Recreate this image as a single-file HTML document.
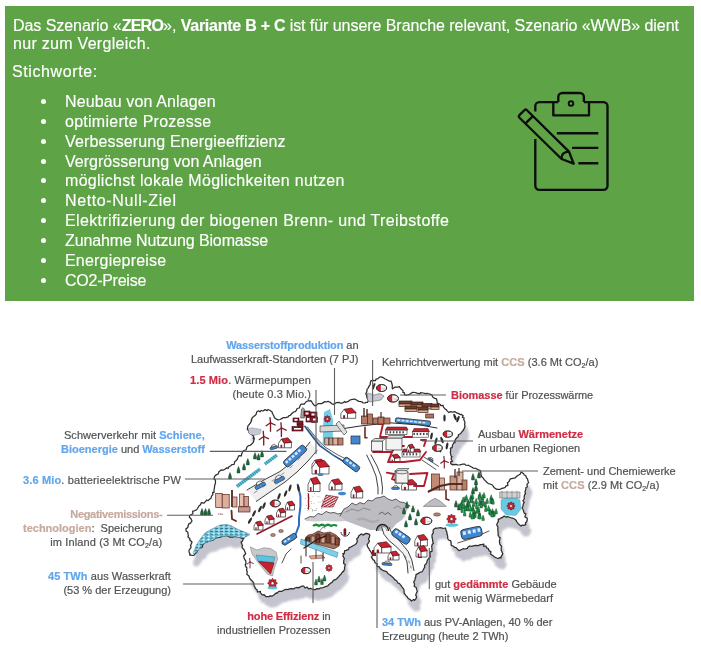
<!DOCTYPE html>
<html><head><meta charset="utf-8">
<style>
*{margin:0;padding:0;box-sizing:border-box}
html,body{width:701px;height:665px;background:#fff;overflow:hidden}
body{position:relative;font-family:"Liberation Sans",sans-serif}
#box{position:absolute;left:4.5px;top:6px;width:689.3px;height:294.7px;background:#5ea447;color:#fff;font-size:16px;-webkit-text-stroke:0.15px #fff}
#box .l{position:absolute;white-space:nowrap;will-change:transform}
#box .b{position:absolute;white-space:nowrap;left:60.2px;will-change:transform}
#box .b::before{content:"";position:absolute;left:-24.25px;top:5.65px;width:5.5px;height:5.5px;border-radius:50%;background:#fff}
.lab{position:absolute;white-space:nowrap;font-size:11px;line-height:14px;color:#4f5254;will-change:transform;-webkit-text-stroke:0.2px currentColor;filter:blur(0.2px)}
.r{text-align:right}
.bl{color:#62a6ec;font-weight:bold}
.rd{color:#cf2d45;font-weight:bold}
.tn{color:#c6a99e;font-weight:bold}
.tnr{color:#c6a99e;font-weight:bold;letter-spacing:0.1px}
sub{font-size:7px;vertical-align:-2px;line-height:0}
svg{position:absolute;left:0;top:0}
</style></head><body>
<div id="box">
<div class="l" style="left:8.3px;top:11px;letter-spacing:-0.055px">Das Szenario «<b style="letter-spacing:-0.75px">ZERO</b>», <b style="letter-spacing:-0.25px">Variante B + C</b> ist für unsere Branche relevant, Szenario «WWB» dient</div>
<div class="l" style="left:8px;top:29px;letter-spacing:0.29px">nur zum Vergleich.</div>
<div class="l" style="left:7.2px;top:57px;letter-spacing:0.6px">Stichworte:</div>
<div class="b" style="top:87.00px;letter-spacing:0.118px">Neubau von Anlagen</div>
<div class="b" style="top:106.84px;letter-spacing:0.267px">optimierte Prozesse</div>
<div class="b" style="top:126.68px;letter-spacing:0.136px">Verbesserung Energieeffizienz</div>
<div class="b" style="top:146.52px;letter-spacing:0.0px">Vergrösserung von Anlagen</div>
<div class="b" style="top:166.36px;letter-spacing:0.297px">möglichst lokale Möglichkeiten nutzen</div>
<div class="b" style="top:186.20px;letter-spacing:0.621px">Netto-Null-Ziel</div>
<div class="b" style="top:206.04px;letter-spacing:0.365px">Elektrifizierung der biogenen Brenn- und Treibstoffe</div>
<div class="b" style="top:225.88px;letter-spacing:-0.135px">Zunahme Nutzung Biomasse</div>
<div class="b" style="top:245.72px;letter-spacing:0.2px">Energiepreise</div>
<div class="b" style="top:265.56px;letter-spacing:-0.256px">CO2-Preise</div>
</div>
<svg width="701" height="665" viewBox="0 0 701 665">
<g fill="none" stroke="#0d0d0d" stroke-width="2.35" stroke-linejoin="round" stroke-linecap="butt">
<path d="M553.3,102.1 H539.3 a4,4 0 0 0 -4,4 V111.5 M535.3,139 V185.8 a4,4 0 0 0 4,4 H603.5 a4,4 0 0 0 4,-4 V106.1 a4,4 0 0 0 -4,-4 H589"/>
<path d="M553.3,102.1 V115.3 H589 V102.1 M553.3,102.1 H558.3 M583.9,102.1 H589 M558.3,102.1 V97 a4,4 0 0 1 4,-4 H579.9 a4,4 0 0 1 4,4 V102.1"/>
<circle cx="571" cy="103.5" r="2.3" stroke-width="1.9"/>
<path d="M556.8,133.2 H598.3 M572,147.9 H598.3 M578.4,163.2 H598.3"/>
<path d="M519.2,115.4 L524.6,110 a1.5,1.5 0 0 1 2.1,0 L569,151.6 L573.7,163.7 L561.6,159 L519.2,117.5 a1.5,1.5 0 0 1 0,-2.1 Z"/>
<path d="M525.8,123.2 L532.6,116.4 M561.6,159 Q561,152 569,151.6"/>
</g>
<defs><filter id="bl" x="-10%" y="-10%" width="120%" height="120%"><feGaussianBlur stdDeviation="0.9"/></filter></defs>
<filter id="soft" filterUnits="userSpaceOnUse" x="0" y="300" width="701" height="365"><feGaussianBlur stdDeviation="0.3"/></filter>
<g filter="url(#soft)">
<path d="M247.7,427.0 L248.1,425.6 L249.4,424.2 L250.7,422.5 L251.7,420.1 L251.2,420.2 L252.4,417.4 L253.7,416.5 L255.7,414.9 L256.4,413.5 L256.7,412.0 L258.5,410.8 L260.0,411.8 L261.2,410.5 L263.0,411.0 L265.2,409.6 L267.1,410.7 L268.0,409.5 L270.2,410.5 L272.1,411.9 L272.5,413.5 L273.7,415.8 L274.4,417.4 L274.7,418.0 L276.2,419.1 L278.1,419.9 L280.0,419.5 L282.7,418.1 L283.0,417.7 L285.7,417.7 L288.2,416.8 L289.0,415.7 L290.2,415.4 L291.4,414.0 L292.2,413.3 L293.7,412.0 L295.0,411.7 L296.3,410.6 L297.1,408.5 L299.3,408.0 L300.5,404.8 L301.6,404.0 L303.9,404.2 L305.5,402.6 L306.2,401.7 L308.2,400.7 L310.0,401.1 L310.8,400.5 L311.4,401.3 L313.0,404.0 L314.9,405.9 L315.3,405.7 L316.0,405.6 L318.2,403.6 L320.0,403.6 L321.6,403.6 L324.8,401.6 L326.0,402.0 L328.0,401.4 L330.1,402.3 L332.2,404.0 L333.2,404.3 L335.0,403.6 L336.5,402.6 L339.0,402.3 L340.1,403.0 L342.6,403.0 L344.7,401.5 L345.3,402.3 L347.8,401.7 L350.0,400.0 L352.4,399.4 L353.1,399.4 L354.7,399.0 L356.5,400.0 L357.8,400.9 L359.2,401.4 L362.1,401.9 L362.9,402.9 L365.0,403.0 L365.7,402.3 L367.5,402.5 L368.3,400.8 L367.3,398.1 L366.8,397.6 L366.8,395.7 L365.8,393.9 L367.1,390.8 L366.8,389.7 L368.0,388.3 L368.6,387.1 L369.5,385.4 L370.2,384.7 L370.3,382.8 L371.0,380.6 L373.7,380.3 L375.5,380.7 L376.0,379.1 L378.0,378.6 L379.4,377.3 L380.5,376.8 L382.0,377.1 L384.0,378.1 L385.0,379.0 L386.5,379.4 L387.3,380.0 L389.0,381.1 L390.9,381.0 L391.7,382.8 L392.2,385.0 L392.5,386.3 L392.1,387.0 L392.5,388.8 L394.4,387.4 L395.1,387.1 L395.7,387.0 L397.7,387.1 L399.4,386.7 L400.2,388.0 L400.7,388.5 L402.0,389.7 L403.1,390.9 L402.8,392.3 L404.4,392.9 L404.5,394.8 L405.9,395.1 L408.0,394.8 L410.5,393.8 L411.4,393.1 L412.7,392.3 L415.2,392.5 L417.0,393.1 L419.7,393.8 L420.5,392.6 L423.3,393.0 L425.6,393.6 L427.3,393.3 L427.6,393.5 L430.1,394.2 L432.1,395.1 L432.5,396.7 L434.1,398.1 L436.5,398.9 L437.0,401.0 L437.3,403.2 L440.4,404.5 L440.8,405.7 L443.1,405.4 L443.5,407.2 L445.4,409.3 L446.5,409.9 L447.1,410.9 L448.9,412.6 L450.1,411.7 L452.7,412.2 L455.0,411.6 L456.1,412.6 L458.7,413.6 L460.6,414.6 L461.5,414.4 L463.2,415.8 L462.3,417.3 L464.2,418.0 L463.7,419.6 L464.9,422.1 L464.6,424.9 L465.0,426.0 L464.5,427.7 L463.5,430.0 L461.7,432.1 L461.0,433.3 L459.8,434.0 L458.6,434.5 L458.0,437.0 L457.0,437.5 L455.3,439.7 L454.9,440.6 L455.0,442.7 L454.0,442.5 L452.5,445.0 L452.2,447.6 L450.4,448.2 L450.7,450.5 L450.3,452.4 L450.7,454.1 L451.0,456.0 L452.0,456.7 L451.0,458.7 L452.4,461.3 L450.8,461.6 L450.7,463.8 L452.8,464.9 L453.0,464.5 L453.9,464.6 L456.1,464.3 L457.9,465.0 L460.0,464.8 L461.8,464.3 L462.6,464.0 L464.8,464.2 L465.8,465.1 L468.9,465.4 L469.3,465.8 L472.0,467.2 L473.4,468.1 L476.0,468.4 L477.7,469.6 L478.7,469.8 L480.5,470.8 L480.9,473.2 L481.1,475.2 L481.7,476.8 L482.8,477.5 L484.2,479.7 L485.3,480.5 L486.0,481.5 L488.3,483.6 L490.0,484.0 L492.4,485.0 L493.8,487.1 L494.0,487.6 L496.0,488.9 L497.2,489.4 L500.3,489.3 L502.0,488.3 L504.1,487.9 L505.5,486.9 L505.7,486.2 L508.0,485.3 L507.4,483.0 L509.4,481.1 L509.3,480.5 L510.4,478.8 L514.0,478.2 L515.2,478.0 L515.7,477.2 L517.4,475.7 L520.1,474.2 L521.2,472.0 L523.7,473.7 L524.2,475.0 L525.7,475.5 L526.6,478.1 L527.4,478.7 L528.3,482.0 L528.7,482.6 L527.0,484.1 L527.3,487.0 L525.9,487.5 L525.7,490.0 L524.9,492.0 L525.6,493.4 L524.5,495.2 L524.2,497.0 L524.2,499.0 L522.9,500.8 L524.3,502.4 L523.4,503.7 L522.8,506.7 L522.0,508.0 L523.1,509.5 L523.5,511.0 L524.2,513.1 L525.8,513.9 L524.9,516.9 L527.3,518.2 L527.2,520.0 L526.6,522.0 L525.5,522.6 L525.7,524.7 L523.6,525.3 L522.3,525.0 L521.2,526.0 L520.4,525.6 L518.3,523.7 L517.3,522.6 L516.2,520.5 L514.9,519.3 L512.6,518.0 L511.7,518.0 L510.2,517.5 L507.5,516.7 L505.8,517.1 L504.2,516.0 L502.0,517.8 L501.2,517.7 L499.6,519.0 L498.2,519.0 L498.4,521.1 L497.2,523.5 L496.7,525.0 L497.8,526.7 L497.9,529.8 L497.8,530.1 L498.2,532.6 L498.0,534.9 L499.3,537.3 L500.1,537.6 L499.7,540.0 L499.4,541.4 L499.8,544.2 L501.6,546.5 L501.2,547.6 L501.2,550.4 L501.8,551.4 L502.7,553.6 L502.7,554.2 L500.8,557.2 L501.2,558.0 L499.3,557.7 L498.4,558.4 L496.7,558.0 L494.1,556.7 L493.4,556.0 L492.0,555.0 L490.4,553.7 L491.0,551.8 L489.0,550.6 L488.1,548.3 L486.5,547.9 L486.0,546.0 L483.7,546.3 L483.9,544.2 L481.6,544.6 L480.5,544.6 L478.2,545.6 L475.6,545.3 L473.2,545.9 L471.9,546.4 L469.6,546.0 L467.6,547.5 L467.5,548.4 L465.0,549.0 L463.1,548.7 L461.0,549.8 L459.0,550.6 L458.0,549.8 L456.1,547.6 L454.8,547.4 L453.0,546.0 L451.2,545.3 L451.1,542.2 L450.6,540.7 L448.6,540.0 L447.7,538.5 L447.7,536.1 L447.0,534.0 L446.8,531.9 L445.7,529.3 L445.6,528.0 L442.8,528.5 L442.3,528.1 L440.4,527.7 L438.0,528.0 L436.0,528.3 L435.8,528.0 L433.5,529.5 L433.1,530.8 L433.3,532.9 L432.0,534.9 L432.0,537.0 L432.6,539.6 L432.7,541.7 L433.5,543.0 L432.2,544.5 L431.7,546.2 L432.0,549.0 L432.0,551.3 L430.1,551.9 L430.0,554.9 L430.3,556.7 L429.0,558.0 L428.4,558.8 L427.3,560.4 L426.8,562.6 L426.0,564.0 L424.5,565.4 L424.8,566.9 L423.3,569.8 L422.1,571.8 L420.6,572.0 L417.9,573.6 L416.0,574.6 L415.7,577.4 L415.2,577.8 L415.0,580.0 L413.7,581.8 L414.6,584.2 L414.1,586.2 L416.2,587.5 L416.6,589.4 L417.3,591.4 L416.3,593.3 L415.7,595.1 L416.6,596.8 L416.0,598.7 L414.6,600.4 L413.7,599.5 L411.3,601.0 L410.7,600.1 L408.0,598.3 L407.1,596.5 L406.5,596.2 L405.6,595.2 L404.2,593.1 L404.0,589.7 L403.4,588.7 L401.7,586.6 L401.1,585.6 L399.3,583.4 L398.0,583.2 L396.6,580.7 L394.4,579.4 L393.5,577.9 L390.7,575.6 L389.2,574.5 L387.9,573.6 L387.2,572.2 L385.9,571.4 L383.5,570.7 L381.5,569.4 L380.2,568.6 L379.5,566.9 L377.1,566.4 L377.1,563.8 L375.1,562.7 L374.4,560.5 L373.0,559.6 L371.5,557.2 L372.7,555.2 L371.6,553.5 L371.2,552.3 L369.4,549.8 L368.6,548.0 L367.6,546.9 L367.2,544.3 L368.1,543.3 L369.4,541.5 L368.5,538.7 L369.3,537.7 L369.8,535.2 L369.4,534.3 L367.4,533.6 L365.8,533.4 L363.0,535.1 L361.6,533.9 L360.3,534.7 L358.6,536.1 L358.3,537.6 L356.7,538.8 L357.4,541.1 L356.4,543.4 L355.3,544.5 L353.9,545.2 L351.3,546.8 L349.1,547.5 L348.6,549.4 L346.2,550.3 L344.7,550.6 L344.2,553.6 L342.7,553.7 L343.5,554.4 L342.9,556.2 L344.5,558.8 L343.8,560.0 L343.6,563.4 L345.3,564.6 L344.5,567.4 L344.6,569.1 L343.4,571.7 L342.8,571.5 L341.0,574.2 L339.3,575.7 L339.4,575.9 L336.7,578.8 L335.9,579.4 L333.4,580.4 L332.1,582.3 L331.6,582.5 L329.0,584.5 L327.8,585.9 L326.3,586.4 L324.8,586.8 L322.2,588.0 L320.3,587.9 L319.3,588.8 L316.5,588.6 L315.3,589.7 L314.1,589.7 L312.3,589.0 L310.2,588.3 L308.5,588.8 L307.2,587.1 L305.0,588.0 L303.7,586.0 L301.6,586.2 L299.3,587.4 L298.5,587.9 L297.3,587.4 L294.8,588.0 L293.9,588.9 L291.1,588.6 L288.8,589.1 L288.0,589.7 L287.2,589.3 L284.7,589.7 L281.9,591.3 L281.1,591.4 L278.8,591.3 L276.9,593.4 L276.1,592.9 L274.2,594.8 L271.9,596.2 L270.2,595.8 L268.9,596.7 L267.4,596.5 L265.9,596.5 L264.1,594.7 L262.3,594.8 L260.3,592.6 L260.4,591.4 L257.4,592.0 L257.1,589.7 L255.6,588.8 L254.5,586.2 L254.0,585.2 L253.7,582.8 L252.8,581.7 L251.9,580.7 L249.9,578.7 L249.0,576.2 L248.7,575.8 L246.8,574.2 L247.3,571.7 L246.6,570.4 L246.9,567.7 L245.9,566.7 L245.2,565.0 L246.0,563.0 L245.8,561.2 L245.0,559.9 L244.0,558.0 L243.7,555.7 L245.7,553.7 L245.0,552.0 L243.9,549.5 L242.4,548.0 L242.0,547.0 L242.6,545.8 L242.1,544.7 L241.0,542.0 L242.2,541.6 L243.1,539.2 L244.0,538.0 L242.9,538.6 L240.0,537.5 L238.9,537.1 L236.6,536.6 L234.0,536.5 L233.0,537.2 L229.6,537.1 L228.0,536.0 L225.3,535.3 L224.5,535.9 L222.0,536.5 L220.4,537.1 L217.7,537.7 L217.0,537.5 L214.9,538.4 L213.3,540.0 L212.0,540.5 L210.9,540.6 L207.8,541.1 L207.0,542.0 L205.5,541.8 L203.6,543.9 L203.0,544.0 L202.4,546.3 L202.0,547.5 L200.0,548.0 L198.7,548.6 L197.6,550.6 L197.0,552.0 L195.7,553.3 L194.0,555.1 L193.0,555.5 L190.8,555.2 L189.5,555.0 L190.1,554.1 L189.0,552.0 L189.2,549.8 L191.0,547.6 L191.0,547.0 L190.6,545.4 L191.7,543.0 L192.0,542.0 L189.7,539.7 L189.9,538.6 L188.0,537.0 L188.3,535.6 L187.7,532.0 L186.0,531.0 L186.0,528.6 L187.2,528.0 L188.0,527.0 L188.1,525.6 L189.1,523.6 L190.5,523.1 L192.0,521.0 L191.0,518.7 L189.4,517.3 L189.6,515.6 L191.1,514.8 L192.9,513.8 L192.7,511.2 L194.4,510.8 L196.5,509.9 L197.5,508.5 L199.1,505.8 L200.5,504.8 L201.3,502.6 L203.8,503.2 L205.9,501.1 L206.5,500.0 L208.2,500.6 L209.3,499.4 L211.2,498.0 L211.5,496.2 L212.9,494.6 L212.6,492.3 L214.0,492.4 L214.0,489.8 L214.5,487.6 L214.6,485.7 L215.3,483.8 L215.5,482.1 L215.4,479.9 L214.0,479.0 L214.3,477.2 L215.3,475.4 L216.3,474.9 L218.4,473.8 L218.9,471.7 L221.1,469.9 L223.1,470.2 L224.9,469.3 L226.4,467.9 L228.3,468.4 L228.6,467.0 L230.9,465.7 L231.8,464.6 L234.1,464.3 L234.8,461.5 L235.7,461.0 L237.4,459.1 L237.1,459.2 L238.1,457.3 L238.9,455.6 L241.4,455.8 L241.7,453.7 L242.5,452.2 L243.7,450.5 L245.4,450.0 L246.1,449.8 L246.9,447.1 L248.4,445.6 L250.2,445.3 L251.5,444.2 L253.3,442.4 L253.8,440.5 L254.4,438.0 L253.3,438.5 L253.7,436.0 L251.7,434.8 L251.5,434.5 L250.3,433.3 L249.2,433.0 L248.7,430.5 L248.0,430.0 L247.3,429.5Z" fill="#c3c4cd" transform="translate(4,11)" filter="url(#bl)"/>
<path d="M247.7,427.0 L248.1,425.6 L249.4,424.2 L250.7,422.5 L251.7,420.1 L251.2,420.2 L252.4,417.4 L253.7,416.5 L255.7,414.9 L256.4,413.5 L256.7,412.0 L258.5,410.8 L260.0,411.8 L261.2,410.5 L263.0,411.0 L265.2,409.6 L267.1,410.7 L268.0,409.5 L270.2,410.5 L272.1,411.9 L272.5,413.5 L273.7,415.8 L274.4,417.4 L274.7,418.0 L276.2,419.1 L278.1,419.9 L280.0,419.5 L282.7,418.1 L283.0,417.7 L285.7,417.7 L288.2,416.8 L289.0,415.7 L290.2,415.4 L291.4,414.0 L292.2,413.3 L293.7,412.0 L295.0,411.7 L296.3,410.6 L297.1,408.5 L299.3,408.0 L300.5,404.8 L301.6,404.0 L303.9,404.2 L305.5,402.6 L306.2,401.7 L308.2,400.7 L310.0,401.1 L310.8,400.5 L311.4,401.3 L313.0,404.0 L314.9,405.9 L315.3,405.7 L316.0,405.6 L318.2,403.6 L320.0,403.6 L321.6,403.6 L324.8,401.6 L326.0,402.0 L328.0,401.4 L330.1,402.3 L332.2,404.0 L333.2,404.3 L335.0,403.6 L336.5,402.6 L339.0,402.3 L340.1,403.0 L342.6,403.0 L344.7,401.5 L345.3,402.3 L347.8,401.7 L350.0,400.0 L352.4,399.4 L353.1,399.4 L354.7,399.0 L356.5,400.0 L357.8,400.9 L359.2,401.4 L362.1,401.9 L362.9,402.9 L365.0,403.0 L365.7,402.3 L367.5,402.5 L368.3,400.8 L367.3,398.1 L366.8,397.6 L366.8,395.7 L365.8,393.9 L367.1,390.8 L366.8,389.7 L368.0,388.3 L368.6,387.1 L369.5,385.4 L370.2,384.7 L370.3,382.8 L371.0,380.6 L373.7,380.3 L375.5,380.7 L376.0,379.1 L378.0,378.6 L379.4,377.3 L380.5,376.8 L382.0,377.1 L384.0,378.1 L385.0,379.0 L386.5,379.4 L387.3,380.0 L389.0,381.1 L390.9,381.0 L391.7,382.8 L392.2,385.0 L392.5,386.3 L392.1,387.0 L392.5,388.8 L394.4,387.4 L395.1,387.1 L395.7,387.0 L397.7,387.1 L399.4,386.7 L400.2,388.0 L400.7,388.5 L402.0,389.7 L403.1,390.9 L402.8,392.3 L404.4,392.9 L404.5,394.8 L405.9,395.1 L408.0,394.8 L410.5,393.8 L411.4,393.1 L412.7,392.3 L415.2,392.5 L417.0,393.1 L419.7,393.8 L420.5,392.6 L423.3,393.0 L425.6,393.6 L427.3,393.3 L427.6,393.5 L430.1,394.2 L432.1,395.1 L432.5,396.7 L434.1,398.1 L436.5,398.9 L437.0,401.0 L437.3,403.2 L440.4,404.5 L440.8,405.7 L443.1,405.4 L443.5,407.2 L445.4,409.3 L446.5,409.9 L447.1,410.9 L448.9,412.6 L450.1,411.7 L452.7,412.2 L455.0,411.6 L456.1,412.6 L458.7,413.6 L460.6,414.6 L461.5,414.4 L463.2,415.8 L462.3,417.3 L464.2,418.0 L463.7,419.6 L464.9,422.1 L464.6,424.9 L465.0,426.0 L464.5,427.7 L463.5,430.0 L461.7,432.1 L461.0,433.3 L459.8,434.0 L458.6,434.5 L458.0,437.0 L457.0,437.5 L455.3,439.7 L454.9,440.6 L455.0,442.7 L454.0,442.5 L452.5,445.0 L452.2,447.6 L450.4,448.2 L450.7,450.5 L450.3,452.4 L450.7,454.1 L451.0,456.0 L452.0,456.7 L451.0,458.7 L452.4,461.3 L450.8,461.6 L450.7,463.8 L452.8,464.9 L453.0,464.5 L453.9,464.6 L456.1,464.3 L457.9,465.0 L460.0,464.8 L461.8,464.3 L462.6,464.0 L464.8,464.2 L465.8,465.1 L468.9,465.4 L469.3,465.8 L472.0,467.2 L473.4,468.1 L476.0,468.4 L477.7,469.6 L478.7,469.8 L480.5,470.8 L480.9,473.2 L481.1,475.2 L481.7,476.8 L482.8,477.5 L484.2,479.7 L485.3,480.5 L486.0,481.5 L488.3,483.6 L490.0,484.0 L492.4,485.0 L493.8,487.1 L494.0,487.6 L496.0,488.9 L497.2,489.4 L500.3,489.3 L502.0,488.3 L504.1,487.9 L505.5,486.9 L505.7,486.2 L508.0,485.3 L507.4,483.0 L509.4,481.1 L509.3,480.5 L510.4,478.8 L514.0,478.2 L515.2,478.0 L515.7,477.2 L517.4,475.7 L520.1,474.2 L521.2,472.0 L523.7,473.7 L524.2,475.0 L525.7,475.5 L526.6,478.1 L527.4,478.7 L528.3,482.0 L528.7,482.6 L527.0,484.1 L527.3,487.0 L525.9,487.5 L525.7,490.0 L524.9,492.0 L525.6,493.4 L524.5,495.2 L524.2,497.0 L524.2,499.0 L522.9,500.8 L524.3,502.4 L523.4,503.7 L522.8,506.7 L522.0,508.0 L523.1,509.5 L523.5,511.0 L524.2,513.1 L525.8,513.9 L524.9,516.9 L527.3,518.2 L527.2,520.0 L526.6,522.0 L525.5,522.6 L525.7,524.7 L523.6,525.3 L522.3,525.0 L521.2,526.0 L520.4,525.6 L518.3,523.7 L517.3,522.6 L516.2,520.5 L514.9,519.3 L512.6,518.0 L511.7,518.0 L510.2,517.5 L507.5,516.7 L505.8,517.1 L504.2,516.0 L502.0,517.8 L501.2,517.7 L499.6,519.0 L498.2,519.0 L498.4,521.1 L497.2,523.5 L496.7,525.0 L497.8,526.7 L497.9,529.8 L497.8,530.1 L498.2,532.6 L498.0,534.9 L499.3,537.3 L500.1,537.6 L499.7,540.0 L499.4,541.4 L499.8,544.2 L501.6,546.5 L501.2,547.6 L501.2,550.4 L501.8,551.4 L502.7,553.6 L502.7,554.2 L500.8,557.2 L501.2,558.0 L499.3,557.7 L498.4,558.4 L496.7,558.0 L494.1,556.7 L493.4,556.0 L492.0,555.0 L490.4,553.7 L491.0,551.8 L489.0,550.6 L488.1,548.3 L486.5,547.9 L486.0,546.0 L483.7,546.3 L483.9,544.2 L481.6,544.6 L480.5,544.6 L478.2,545.6 L475.6,545.3 L473.2,545.9 L471.9,546.4 L469.6,546.0 L467.6,547.5 L467.5,548.4 L465.0,549.0 L463.1,548.7 L461.0,549.8 L459.0,550.6 L458.0,549.8 L456.1,547.6 L454.8,547.4 L453.0,546.0 L451.2,545.3 L451.1,542.2 L450.6,540.7 L448.6,540.0 L447.7,538.5 L447.7,536.1 L447.0,534.0 L446.8,531.9 L445.7,529.3 L445.6,528.0 L442.8,528.5 L442.3,528.1 L440.4,527.7 L438.0,528.0 L436.0,528.3 L435.8,528.0 L433.5,529.5 L433.1,530.8 L433.3,532.9 L432.0,534.9 L432.0,537.0 L432.6,539.6 L432.7,541.7 L433.5,543.0 L432.2,544.5 L431.7,546.2 L432.0,549.0 L432.0,551.3 L430.1,551.9 L430.0,554.9 L430.3,556.7 L429.0,558.0 L428.4,558.8 L427.3,560.4 L426.8,562.6 L426.0,564.0 L424.5,565.4 L424.8,566.9 L423.3,569.8 L422.1,571.8 L420.6,572.0 L417.9,573.6 L416.0,574.6 L415.7,577.4 L415.2,577.8 L415.0,580.0 L413.7,581.8 L414.6,584.2 L414.1,586.2 L416.2,587.5 L416.6,589.4 L417.3,591.4 L416.3,593.3 L415.7,595.1 L416.6,596.8 L416.0,598.7 L414.6,600.4 L413.7,599.5 L411.3,601.0 L410.7,600.1 L408.0,598.3 L407.1,596.5 L406.5,596.2 L405.6,595.2 L404.2,593.1 L404.0,589.7 L403.4,588.7 L401.7,586.6 L401.1,585.6 L399.3,583.4 L398.0,583.2 L396.6,580.7 L394.4,579.4 L393.5,577.9 L390.7,575.6 L389.2,574.5 L387.9,573.6 L387.2,572.2 L385.9,571.4 L383.5,570.7 L381.5,569.4 L380.2,568.6 L379.5,566.9 L377.1,566.4 L377.1,563.8 L375.1,562.7 L374.4,560.5 L373.0,559.6 L371.5,557.2 L372.7,555.2 L371.6,553.5 L371.2,552.3 L369.4,549.8 L368.6,548.0 L367.6,546.9 L367.2,544.3 L368.1,543.3 L369.4,541.5 L368.5,538.7 L369.3,537.7 L369.8,535.2 L369.4,534.3 L367.4,533.6 L365.8,533.4 L363.0,535.1 L361.6,533.9 L360.3,534.7 L358.6,536.1 L358.3,537.6 L356.7,538.8 L357.4,541.1 L356.4,543.4 L355.3,544.5 L353.9,545.2 L351.3,546.8 L349.1,547.5 L348.6,549.4 L346.2,550.3 L344.7,550.6 L344.2,553.6 L342.7,553.7 L343.5,554.4 L342.9,556.2 L344.5,558.8 L343.8,560.0 L343.6,563.4 L345.3,564.6 L344.5,567.4 L344.6,569.1 L343.4,571.7 L342.8,571.5 L341.0,574.2 L339.3,575.7 L339.4,575.9 L336.7,578.8 L335.9,579.4 L333.4,580.4 L332.1,582.3 L331.6,582.5 L329.0,584.5 L327.8,585.9 L326.3,586.4 L324.8,586.8 L322.2,588.0 L320.3,587.9 L319.3,588.8 L316.5,588.6 L315.3,589.7 L314.1,589.7 L312.3,589.0 L310.2,588.3 L308.5,588.8 L307.2,587.1 L305.0,588.0 L303.7,586.0 L301.6,586.2 L299.3,587.4 L298.5,587.9 L297.3,587.4 L294.8,588.0 L293.9,588.9 L291.1,588.6 L288.8,589.1 L288.0,589.7 L287.2,589.3 L284.7,589.7 L281.9,591.3 L281.1,591.4 L278.8,591.3 L276.9,593.4 L276.1,592.9 L274.2,594.8 L271.9,596.2 L270.2,595.8 L268.9,596.7 L267.4,596.5 L265.9,596.5 L264.1,594.7 L262.3,594.8 L260.3,592.6 L260.4,591.4 L257.4,592.0 L257.1,589.7 L255.6,588.8 L254.5,586.2 L254.0,585.2 L253.7,582.8 L252.8,581.7 L251.9,580.7 L249.9,578.7 L249.0,576.2 L248.7,575.8 L246.8,574.2 L247.3,571.7 L246.6,570.4 L246.9,567.7 L245.9,566.7 L245.2,565.0 L246.0,563.0 L245.8,561.2 L245.0,559.9 L244.0,558.0 L243.7,555.7 L245.7,553.7 L245.0,552.0 L243.9,549.5 L242.4,548.0 L242.0,547.0 L242.6,545.8 L242.1,544.7 L241.0,542.0 L242.2,541.6 L243.1,539.2 L244.0,538.0 L242.9,538.6 L240.0,537.5 L238.9,537.1 L236.6,536.6 L234.0,536.5 L233.0,537.2 L229.6,537.1 L228.0,536.0 L225.3,535.3 L224.5,535.9 L222.0,536.5 L220.4,537.1 L217.7,537.7 L217.0,537.5 L214.9,538.4 L213.3,540.0 L212.0,540.5 L210.9,540.6 L207.8,541.1 L207.0,542.0 L205.5,541.8 L203.6,543.9 L203.0,544.0 L202.4,546.3 L202.0,547.5 L200.0,548.0 L198.7,548.6 L197.6,550.6 L197.0,552.0 L195.7,553.3 L194.0,555.1 L193.0,555.5 L190.8,555.2 L189.5,555.0 L190.1,554.1 L189.0,552.0 L189.2,549.8 L191.0,547.6 L191.0,547.0 L190.6,545.4 L191.7,543.0 L192.0,542.0 L189.7,539.7 L189.9,538.6 L188.0,537.0 L188.3,535.6 L187.7,532.0 L186.0,531.0 L186.0,528.6 L187.2,528.0 L188.0,527.0 L188.1,525.6 L189.1,523.6 L190.5,523.1 L192.0,521.0 L191.0,518.7 L189.4,517.3 L189.6,515.6 L191.1,514.8 L192.9,513.8 L192.7,511.2 L194.4,510.8 L196.5,509.9 L197.5,508.5 L199.1,505.8 L200.5,504.8 L201.3,502.6 L203.8,503.2 L205.9,501.1 L206.5,500.0 L208.2,500.6 L209.3,499.4 L211.2,498.0 L211.5,496.2 L212.9,494.6 L212.6,492.3 L214.0,492.4 L214.0,489.8 L214.5,487.6 L214.6,485.7 L215.3,483.8 L215.5,482.1 L215.4,479.9 L214.0,479.0 L214.3,477.2 L215.3,475.4 L216.3,474.9 L218.4,473.8 L218.9,471.7 L221.1,469.9 L223.1,470.2 L224.9,469.3 L226.4,467.9 L228.3,468.4 L228.6,467.0 L230.9,465.7 L231.8,464.6 L234.1,464.3 L234.8,461.5 L235.7,461.0 L237.4,459.1 L237.1,459.2 L238.1,457.3 L238.9,455.6 L241.4,455.8 L241.7,453.7 L242.5,452.2 L243.7,450.5 L245.4,450.0 L246.1,449.8 L246.9,447.1 L248.4,445.6 L250.2,445.3 L251.5,444.2 L253.3,442.4 L253.8,440.5 L254.4,438.0 L253.3,438.5 L253.7,436.0 L251.7,434.8 L251.5,434.5 L250.3,433.3 L249.2,433.0 L248.7,430.5 L248.0,430.0 L247.3,429.5Z" fill="#fff" stroke="#2e2e2e" stroke-width="1.25" stroke-linejoin="round"/>
<path d="M305.0,519.0 L310.0,516.5 L314.0,517.0 L318.0,513.5 L322.0,514.5 L326.0,511.5 L330.0,513.0 L334.0,512.5 L338.0,514.0 L342.0,513.0 L344.0,514.0 L346.0,521.0 L338.0,521.5 L326.0,521.0 L315.0,521.5 L306.0,521.0Z" fill="#cdcdd1" stroke="none" stroke-width="0.7" stroke-linejoin="round" />
<path d="M305.0,519.0 L310.0,516.5 L314.0,517.0 L318.0,513.5 L322.0,514.5 L326.0,511.5 L330.0,513.0 L334.0,512.5 L338.0,514.0 L342.0,513.0 L344.0,514.0" fill="none" stroke="#3a3a3e" stroke-width="0.8" stroke-linecap="round" stroke-linejoin="round" />
<path d="M340.0,516.0 L344.0,509.0 L348.0,507.0 L352.0,503.0 L356.0,505.0 L360.0,502.5 L364.0,504.0 L368.0,500.0 L372.0,501.0 L376.0,498.0 L380.0,497.5 L384.0,496.0 L388.0,499.0 L392.0,500.5 L396.0,499.0 L400.0,502.0 L404.0,502.5 L408.0,505.0 L410.0,506.0 L407.0,510.0 L405.0,516.0 L402.0,520.0 L396.0,524.0 L392.0,529.0 L388.0,531.0 L380.0,531.0 L376.0,530.0 L370.0,530.0 L362.0,527.0 L354.0,524.0 L346.0,521.0Z" fill="#bdbdc1" stroke="none" stroke-width="0.7" stroke-linejoin="round" />
<path d="M340.0,516.0 L344.0,509.0 L348.0,507.0 L352.0,503.0 L356.0,505.0 L360.0,502.5 L364.0,504.0 L368.0,500.0 L372.0,501.0 L376.0,498.0 L380.0,497.5 L384.0,496.0 L388.0,499.0 L392.0,500.5 L396.0,499.0 L400.0,502.0 L404.0,502.5 L408.0,505.0 L410.0,506.0" fill="none" stroke="#3a3a3e" stroke-width="0.8" stroke-linecap="round" stroke-linejoin="round" />
<path d="M346.0,512.0 L352.0,509.0 L358.0,511.0 L364.0,508.0 L370.0,510.0" fill="none" stroke="#6a6a6e" stroke-width="0.6" stroke-linecap="round" stroke-linejoin="round" />
<path d="M379.0,514.0 L382.0,512.0 L385.0,514.5 L388.0,512.5 L391.0,515.0" fill="none" stroke="#3a3a3e" stroke-width="0.7" stroke-linecap="round" stroke-linejoin="round" />
<path d="M394.0,508.0 L398.0,506.0 L402.0,509.0" fill="none" stroke="#6a6a6e" stroke-width="0.6" stroke-linecap="round" stroke-linejoin="round" />
<path d="M357,520 q6,-3 12,1 q5,2 10,-1" fill="none" stroke="#a0a0a5" stroke-width="2.5" opacity="0.6"/>
<path d="M423.3,506.4 L430.0,501.0 L435.0,498.3 L440.0,501.0 L446.3,506.4Z" fill="#bdbdc2" stroke="#555" stroke-width="0.5" stroke-linejoin="round" />
<path d="M367.5,393.0 L374.0,395.0 L380.0,393.5 L384.0,396.0 L381.0,400.0 L375.0,401.0 L370.0,402.0 L367.5,400.0Z" fill="#c6c8d2" stroke="#555" stroke-width="0.5" stroke-linejoin="round" />
<path d="M248.4,428.5 L252.0,427.8 L256.0,428.5 L261.2,429.5 L260.0,434.0 L255.0,435.3 L250.0,434.5 L248.6,432.0Z" fill="#c6c8d4" stroke="#777" stroke-width="0.4" stroke-linejoin="round" />
<defs><pattern id="hp" width="5" height="3.2" patternUnits="userSpaceOnUse"><rect width="5" height="3.2" fill="#7ccbe3"/><rect x="0" y="0" width="3" height="0.9" fill="#2f6f80"/><rect x="2.5" y="1.6" width="2" height="0.9" fill="#f0f9fc"/><rect x="0.3" y="1.7" width="1.2" height="0.7" fill="#3aa0c0"/></pattern></defs>
<path d="M193.0,553.0 L197.0,544.0 L201.0,538.0 L205.0,533.0 L210.0,530.0 L214.0,528.0 L220.0,525.0 L227.0,524.5 L232.0,526.0 L237.0,529.0 L242.0,531.0 L247.0,533.0 L250.0,534.5 L244.0,538.0 L240.0,537.5 L234.0,536.5 L228.0,536.0 L222.0,536.5 L217.0,537.5 L212.0,540.5 L207.0,542.0 L203.0,544.0 L200.0,548.0 L197.0,552.0 L194.0,554.0Z" fill="url(#hp)" stroke="#3c7d90" stroke-width="0.5" stroke-linejoin="round" />
<path d="M250.3,546.8 L257.0,550.0 L264.0,547.7 L270.8,548.6 L276.0,552.0 L277.7,558.8 L274.2,569.0 L272.5,576.0 L267.4,574.2 L260.5,565.7 L255.4,558.8 L252.0,553.7Z" fill="#c9c7ca" stroke="#777" stroke-width="0.5" stroke-linejoin="round" />
<path d="M256.0,555.0 L275.0,557.0 L273.5,562.5 L258.0,561.0Z" fill="#5cc3e0" stroke="#2a7c97" stroke-width="0.5" stroke-linejoin="round" />
<path d="M258.5,561.5 L274.0,563.0 L270.5,574.0Z" fill="#c8202f" stroke="#501018" stroke-width="0.6" stroke-linejoin="round" />
<path d="M247.0,490.0 L262.0,481.0 L280.0,471.5 L292.0,462.0 L302.0,452.0 L310.0,442.0 L317.0,450.6 L308.0,461.0 L297.0,472.0 L285.0,482.0 L270.0,492.0 L256.3,501.4Z" fill="#efefef" stroke="none" stroke-width="0.7" stroke-linejoin="round" />
<path d="M247.0,490.0 L262.0,481.0 L280.0,471.5 L292.0,462.0 L302.0,452.0 L310.0,442.0" fill="none" stroke="#2b2b2b" stroke-width="0.9" stroke-linecap="round" stroke-linejoin="round" />
<path d="M256.3,501.4 L270.0,492.0 L285.0,482.0 L297.0,472.0 L308.0,461.0 L317.0,450.6" fill="none" stroke="#2b2b2b" stroke-width="0.9" stroke-linecap="round" stroke-linejoin="round" />
<path d="M254.0,493.0 L257.0,491.0" fill="none" stroke="#555" stroke-width="0.6" stroke-linecap="round" stroke-linejoin="round" />
<path d="M263.0,487.0 L266.0,485.0" fill="none" stroke="#555" stroke-width="0.6" stroke-linecap="round" stroke-linejoin="round" />
<path d="M272.0,481.0 L275.0,479.0" fill="none" stroke="#555" stroke-width="0.6" stroke-linecap="round" stroke-linejoin="round" />
<path d="M281.0,475.0 L284.0,472.8" fill="none" stroke="#555" stroke-width="0.6" stroke-linecap="round" stroke-linejoin="round" />
<path d="M290.0,468.0 L292.5,465.5" fill="none" stroke="#555" stroke-width="0.6" stroke-linecap="round" stroke-linejoin="round" />
<path d="M298.0,460.0 L300.2,457.2" fill="none" stroke="#555" stroke-width="0.6" stroke-linecap="round" stroke-linejoin="round" />
<path d="M305.0,451.5 L307.0,448.5" fill="none" stroke="#555" stroke-width="0.6" stroke-linecap="round" stroke-linejoin="round" />
<path d="M366.7,455.0 L372.0,466.0 L376.0,476.0 L378.0,488.0 L378.0,494.0" fill="none" stroke="#2b2b2b" stroke-width="0.9" stroke-linecap="round" stroke-linejoin="round" />
<path d="M371.0,455.0 L377.0,466.0 L381.0,476.0 L382.5,488.0 L382.0,494.0" fill="none" stroke="#2b2b2b" stroke-width="0.9" stroke-linecap="round" stroke-linejoin="round" />
<path d="M381.7,527.2 L384.0,534.4 L388.9,540.5 L396.0,546.5 L403.3,553.7 L407.0,562.0 L408.0,573.0 L414.0,570.5 L411.7,559.7 L408.0,551.3 L402.0,544.0 L396.0,536.8 L391.3,532.0 L388.9,527.2Z" fill="#f3f3f3" stroke="none" stroke-width="0.7" stroke-linejoin="round" />
<path d="M381.7,527.2 L384.0,534.4 L388.9,540.5 L396.0,546.5 L403.3,553.7 L407.0,562.0 L408.0,573.0" fill="none" stroke="#2b2b2b" stroke-width="0.9" stroke-linecap="round" stroke-linejoin="round" />
<path d="M388.9,527.2 L391.3,532.0 L396.0,536.8 L402.0,544.0 L408.0,551.3 L411.7,559.7 L414.0,570.5" fill="none" stroke="#2b2b2b" stroke-width="0.9" stroke-linecap="round" stroke-linejoin="round" />
<path d="M405.5,556.0 L406.1,558.0" fill="none" stroke="#555" stroke-width="0.6" stroke-linecap="round" stroke-linejoin="round" />
<path d="M408.8,561.0 L409.4,563.0" fill="none" stroke="#555" stroke-width="0.6" stroke-linecap="round" stroke-linejoin="round" />
<path d="M410.5,566.0 L411.1,568.0" fill="none" stroke="#555" stroke-width="0.6" stroke-linecap="round" stroke-linejoin="round" />
<path d="M376.5,531 a6,6.5 0 0 1 12,0" fill="none" stroke="#222" stroke-width="1.5"/>
<path d="M378.3,531 a4.2,4.6 0 0 1 8.4,0" fill="none" stroke="#666" stroke-width="0.6"/>
<path d="M424.0,457.0 L438.6,466.4" fill="none" stroke="#2b2b2b" stroke-width="0.8" stroke-linecap="round" stroke-linejoin="round" />
<path d="M422.0,460.0 L436.0,469.5" fill="none" stroke="#2b2b2b" stroke-width="0.8" stroke-linecap="round" stroke-linejoin="round" />
<path d="M344.2,428.5 L360.0,426.0 L390.0,422.8 L420.0,425.0 L437.0,428.0" fill="none" stroke="#2b2b2b" stroke-width="1.0" stroke-linecap="round" stroke-linejoin="round" />
<path d="M457.6,543.0 L472.0,538.5 L489.0,531.0" fill="none" stroke="#2b2b2b" stroke-width="0.8" stroke-linecap="round" stroke-linejoin="round" />
<path d="M304.8,426.3 L312.0,436.0 L320.0,446.0 L332.8,454.8 L347.7,464.0" fill="none" stroke="#1d4f8a" stroke-width="1.5" stroke-linecap="round" stroke-linejoin="round" />
<path d="M307.5,427.0 L316.0,437.5 L325.0,447.0 L338.0,455.0 L350.0,461.0" fill="none" stroke="#3a3a3a" stroke-width="0.8" stroke-linecap="round" stroke-linejoin="round" />
<path d="M307.0,427.0 L315.0,438.0 L323.0,447.0 L334.0,455.5" fill="none" stroke="#5a7fa8" stroke-width="0.8" stroke-linecap="round" stroke-linejoin="round" />
<path d="M297.7,484.8 L300.4,496.0 L300.4,506.4 L299.0,518.0 L299.0,525.4 L295.0,536.0 L289.0,541.0 L282.7,543.5" fill="none" stroke="#2b6fc0" stroke-width="2.0" stroke-linecap="round" stroke-linejoin="round" />
<g transform="rotate(-42.0 285 465)"><rect x="285" y="461.25" width="26.9" height="7.5" rx="2.6" fill="#3f86d0" stroke="#2b2b2b" stroke-width="0.8"/><rect x="287.0" y="462.6" width="2.8" height="2.6" fill="#d5e9ff"/><rect x="291.2" y="462.6" width="2.8" height="2.6" fill="#d5e9ff"/><rect x="295.4" y="462.6" width="2.8" height="2.6" fill="#d5e9ff"/><rect x="299.6" y="462.6" width="2.8" height="2.6" fill="#d5e9ff"/><rect x="303.8" y="462.6" width="2.8" height="2.6" fill="#d5e9ff"/></g>
<g transform="rotate(37.0 344 459)"><rect x="344" y="455.75" width="18.3" height="6.5" rx="2.3" fill="#3f86d0" stroke="#2b2b2b" stroke-width="0.8"/><rect x="346.0" y="457.1" width="2.8" height="2.3" fill="#d5e9ff"/><rect x="350.2" y="457.1" width="2.8" height="2.3" fill="#d5e9ff"/><rect x="354.4" y="457.1" width="2.8" height="2.3" fill="#d5e9ff"/></g>
<g transform="rotate(5.7 395.4 420)"><rect x="395.4" y="417.7" width="35.3" height="4.6" rx="1.6" fill="#4f97e0" stroke="#2b2b2b" stroke-width="0.8"/><rect x="397.4" y="419.0" width="2.8" height="1.6" fill="#d5e9ff"/><rect x="401.6" y="419.0" width="2.8" height="1.6" fill="#d5e9ff"/><rect x="405.8" y="419.0" width="2.8" height="1.6" fill="#d5e9ff"/><rect x="410.0" y="419.0" width="2.8" height="1.6" fill="#d5e9ff"/><rect x="414.2" y="419.0" width="2.8" height="1.6" fill="#d5e9ff"/><rect x="418.4" y="419.0" width="2.8" height="1.6" fill="#d5e9ff"/><rect x="422.6" y="419.0" width="2.8" height="1.6" fill="#d5e9ff"/></g>
<g transform="rotate(34.5 393 531)"><rect x="393" y="527.0" width="19.4" height="8" rx="2.8" fill="#3f86d0" stroke="#2b2b2b" stroke-width="0.8"/><rect x="395.0" y="528.3" width="2.8" height="2.8" fill="#d5e9ff"/><rect x="399.2" y="528.3" width="2.8" height="2.8" fill="#d5e9ff"/><rect x="403.4" y="528.3" width="2.8" height="2.8" fill="#d5e9ff"/></g>
<g transform="rotate(-12 471 533)"><rect x="461" y="528" width="21" height="10" rx="3" fill="#3f86d0" stroke="#2b2b2b" stroke-width="0.8"/><rect x="463" y="530" width="3" height="3.5" fill="#d5e9ff"/><rect x="468" y="530" width="3" height="3.5" fill="#d5e9ff"/><rect x="473" y="530" width="3" height="3.5" fill="#d5e9ff"/><rect x="478" y="530" width="2.5" height="3.5" fill="#d5e9ff"/></g>
<g transform="rotate(-32.6 282.7 543.5)"><rect x="282.7" y="540.75" width="15.8" height="5.5" rx="1.9" fill="#3f86d0" stroke="#2b2b2b" stroke-width="0.8"/><rect x="284.7" y="542.0" width="2.8" height="1.9" fill="#d5e9ff"/><rect x="288.9" y="542.0" width="2.8" height="1.9" fill="#d5e9ff"/></g>
<rect x="351" y="436" width="9" height="8" fill="#3f86d0" stroke="#2b2b2b" stroke-width="0.7"/>
<g transform="rotate(-28 259.8 485)"><rect x="254.3" y="484.1" width="11" height="3.5999999999999996" rx="1.2" fill="#3f86d0" stroke="#2b2b2b" stroke-width="0.6"/><path d="M256.5,484.1 L258.15000000000003,481.4 L262.0,481.4 L263.65000000000003,484.1 Z" fill="#eef5ff" stroke="#2b2b2b" stroke-width="0.6"/></g>
<g transform="rotate(-28 279 479.2)"><rect x="273.5" y="478.3" width="11" height="3.5999999999999996" rx="1.2" fill="#3f86d0" stroke="#2b2b2b" stroke-width="0.6"/><path d="M275.7,478.3 L277.35,475.59999999999997 L281.2,475.59999999999997 L282.85,478.3 Z" fill="#eef5ff" stroke="#2b2b2b" stroke-width="0.6"/></g>
<g transform="rotate(-15 273.7 447.2)"><rect x="269.7" y="446.59999999999997" width="8" height="2.4" rx="1.2" fill="#3f86d0" stroke="#2b2b2b" stroke-width="0.6"/><path d="M271.3,446.59999999999997 L272.5,444.8 L275.3,444.8 L276.5,446.59999999999997 Z" fill="#eef5ff" stroke="#2b2b2b" stroke-width="0.6"/></g>
<g transform="rotate(0 395.5 487.8)"><rect x="391.5" y="487.27500000000003" width="8" height="2.1" rx="1.2" fill="#3f86d0" stroke="#2b2b2b" stroke-width="0.6"/><path d="M393.1,487.27500000000003 L394.3,485.7 L397.1,485.7 L398.3,487.27500000000003 Z" fill="#eef5ff" stroke="#2b2b2b" stroke-width="0.6"/></g>
<g transform="rotate(35 430.8 459.4)"><rect x="427.8" y="458.95" width="6" height="1.7999999999999998" rx="1.2" fill="#3f86d0" stroke="#2b2b2b" stroke-width="0.6"/><path d="M429.0,458.95 L429.90000000000003,457.59999999999997 L432.0,457.59999999999997 L432.90000000000003,458.95 Z" fill="#eef5ff" stroke="#2b2b2b" stroke-width="0.6"/></g>
<g transform="rotate(5 387 563.5)"><rect x="382.0" y="562.9" width="10" height="2.4" rx="1.2" fill="#3f86d0" stroke="#2b2b2b" stroke-width="0.6"/><path d="M384.0,562.9 L385.5,561.1 L389.0,561.1 L390.5,562.9 Z" fill="#eef5ff" stroke="#2b2b2b" stroke-width="0.6"/></g>
<rect x="372" y="550" width="4" height="6" fill="#8c1c28"/><rect x="418" y="553" width="4" height="5" fill="#8c1c28"/>
<line x1="237" y1="486.4" x2="260" y2="469" stroke="#5cc3e0" stroke-width="3.4"/>
<line x1="237" y1="486.4" x2="260" y2="469" stroke="#27707f" stroke-width="3.4" stroke-dasharray="0.8 1.4" opacity="0.75"/>
<line x1="265" y1="464" x2="277" y2="455" stroke="#5cc3e0" stroke-width="3.4"/>
<line x1="265" y1="464" x2="277" y2="455" stroke="#27707f" stroke-width="3.4" stroke-dasharray="0.8 1.4" opacity="0.75"/>
<g stroke="#7d1f2c" stroke-width="1.35" stroke-linecap="round"><line x1="270.5" y1="422.8" x2="270.5" y2="431.3"/><line x1="270.5" y1="422.8" x2="270.0" y2="417.6"/><line x1="270.5" y1="422.8" x2="275.2" y2="425.0"/><line x1="270.5" y1="422.8" x2="266.2" y2="425.8"/></g>
<g stroke="#7d1f2c" stroke-width="1.35" stroke-linecap="round"><line x1="281.4" y1="428" x2="281.4" y2="436.5"/><line x1="281.4" y1="428" x2="280.9" y2="422.8"/><line x1="281.4" y1="428" x2="286.1" y2="430.2"/><line x1="281.4" y1="428" x2="277.1" y2="431.0"/></g>
<g stroke="#7d1f2c" stroke-width="1.35" stroke-linecap="round"><line x1="263.7" y1="436.5" x2="263.7" y2="445.0"/><line x1="263.7" y1="436.5" x2="263.2" y2="431.3"/><line x1="263.7" y1="436.5" x2="268.4" y2="438.7"/><line x1="263.7" y1="436.5" x2="259.4" y2="439.5"/></g>
<g stroke="#7d1f2c" stroke-width="1.15" stroke-linecap="round"><line x1="444.3" y1="460.7" x2="444.3" y2="467.9"/><line x1="444.3" y1="460.7" x2="443.9" y2="456.3"/><line x1="444.3" y1="460.7" x2="448.3" y2="462.6"/><line x1="444.3" y1="460.7" x2="440.7" y2="463.2"/></g>
<g stroke="#7d1f2c" stroke-width="0.01" stroke-linecap="round"><line x1="443.6" y1="459" x2="443.6" y2="459.1"/><line x1="443.6" y1="459" x2="443.6" y2="458.9"/><line x1="443.6" y1="459" x2="443.6" y2="459.0"/><line x1="443.6" y1="459" x2="443.6" y2="459.0"/></g>
<g stroke="#7d1f2c" stroke-width="0.94" stroke-linecap="round"><line x1="250" y1="562" x2="250" y2="568.0"/><line x1="250" y1="562" x2="249.7" y2="558.4"/><line x1="250" y1="562" x2="253.3" y2="563.5"/><line x1="250" y1="562" x2="247.0" y2="564.1"/></g>
<path d="M230.0,472.5 Q232.1,477.1 231.4,479.0 L228.6,479.0 Q227.9,477.1 230.0,472.5Z" fill="#1f6b3a" stroke="#10301c" stroke-width="0.4"/>
<path d="M238.5,466.5 Q240.6,471.1 239.9,473.0 L237.1,473.0 Q236.4,471.1 238.5,466.5Z" fill="#1f6b3a" stroke="#10301c" stroke-width="0.4"/>
<path d="M244.0,463.5 Q246.1,468.1 245.4,470.0 L242.6,470.0 Q241.9,468.1 244.0,463.5Z" fill="#1f6b3a" stroke="#10301c" stroke-width="0.4"/>
<path d="M247.8,458.5 Q249.9,463.1 249.2,465.0 L246.4,465.0 Q245.7,463.1 247.8,458.5Z" fill="#1f6b3a" stroke="#10301c" stroke-width="0.4"/>
<path d="M255.0,452.5 Q257.1,457.1 256.4,459.0 L253.6,459.0 Q252.9,457.1 255.0,452.5Z" fill="#1f6b3a" stroke="#10301c" stroke-width="0.4"/>
<path d="M258.5,453.5 Q260.6,458.1 259.9,460.0 L257.1,460.0 Q256.4,458.1 258.5,453.5Z" fill="#1f6b3a" stroke="#10301c" stroke-width="0.4"/>
<path d="M262.0,450.5 Q264.1,455.1 263.4,457.0 L260.6,457.0 Q259.9,455.1 262.0,450.5Z" fill="#1f6b3a" stroke="#10301c" stroke-width="0.4"/>
<path d="M202.0,508.5 Q204.1,513.0 203.4,515.0 L200.6,515.0 Q199.9,513.0 202.0,508.5Z" fill="#1f6b3a" stroke="#10301c" stroke-width="0.4"/>
<path d="M205.5,508.5 Q207.6,513.0 206.9,515.0 L204.1,515.0 Q203.4,513.0 205.5,508.5Z" fill="#1f6b3a" stroke="#10301c" stroke-width="0.4"/>
<path d="M209.0,508.5 Q211.1,513.0 210.4,515.0 L207.6,515.0 Q206.9,513.0 209.0,508.5Z" fill="#1f6b3a" stroke="#10301c" stroke-width="0.4"/>
<path d="M404.0,507.5 Q406.1,512.0 405.4,514.0 L402.6,514.0 Q401.9,512.0 404.0,507.5Z" fill="#1f6b3a" stroke="#10301c" stroke-width="0.4"/>
<path d="M407.0,501.5 Q409.1,506.1 408.4,508.0 L405.6,508.0 Q404.9,506.1 407.0,501.5Z" fill="#1f6b3a" stroke="#10301c" stroke-width="0.4"/>
<path d="M410.0,513.5 Q412.1,518.0 411.4,520.0 L408.6,520.0 Q407.9,518.0 410.0,513.5Z" fill="#1f6b3a" stroke="#10301c" stroke-width="0.4"/>
<path d="M413.0,505.5 Q415.1,510.1 414.4,512.0 L411.6,512.0 Q410.9,510.1 413.0,505.5Z" fill="#1f6b3a" stroke="#10301c" stroke-width="0.4"/>
<path d="M416.0,518.5 Q418.1,523.0 417.4,525.0 L414.6,525.0 Q413.9,523.0 416.0,518.5Z" fill="#1f6b3a" stroke="#10301c" stroke-width="0.4"/>
<path d="M418.0,509.5 Q420.1,514.0 419.4,516.0 L416.6,516.0 Q415.9,514.0 418.0,509.5Z" fill="#1f6b3a" stroke="#10301c" stroke-width="0.4"/>
<path d="M406.0,520.5 Q408.1,525.0 407.4,527.0 L404.6,527.0 Q403.9,525.0 406.0,520.5Z" fill="#1f6b3a" stroke="#10301c" stroke-width="0.4"/>
<path d="M473.0,473.5 Q475.1,478.1 474.4,480.0 L471.6,480.0 Q470.9,478.1 473.0,473.5Z" fill="#1f6b3a" stroke="#10301c" stroke-width="0.4"/>
<path d="M476.0,478.5 Q478.1,483.1 477.4,485.0 L474.6,485.0 Q473.9,483.1 476.0,478.5Z" fill="#1f6b3a" stroke="#10301c" stroke-width="0.4"/>
<path d="M479.0,471.5 Q481.1,476.1 480.4,478.0 L477.6,478.0 Q476.9,476.1 479.0,471.5Z" fill="#1f6b3a" stroke="#10301c" stroke-width="0.4"/>
<path d="M476.0,484.5 Q478.1,489.1 477.4,491.0 L474.6,491.0 Q473.9,489.1 476.0,484.5Z" fill="#1f6b3a" stroke="#10301c" stroke-width="0.4"/>
<path d="M473.0,487.5 Q475.1,492.1 474.4,494.0 L471.6,494.0 Q470.9,492.1 473.0,487.5Z" fill="#1f6b3a" stroke="#10301c" stroke-width="0.4"/>
<path d="M456.0,500.5 Q458.1,505.1 457.4,507.0 L454.6,507.0 Q453.9,505.1 456.0,500.5Z" fill="#1f6b3a" stroke="#10301c" stroke-width="0.4"/>
<path d="M459.0,503.5 Q461.1,508.1 460.4,510.0 L457.6,510.0 Q456.9,508.1 459.0,503.5Z" fill="#1f6b3a" stroke="#10301c" stroke-width="0.4"/>
<path d="M479.9,492.1 Q481.7,496.0 481.1,497.6 L478.7,497.6 Q478.1,496.0 479.9,492.1Z" fill="#1e9a4a" stroke="#10301c" stroke-width="0.4"/>
<path d="M484.0,492.4 Q485.8,496.2 485.2,497.9 L482.8,497.9 Q482.3,496.2 484.0,492.4Z" fill="#1e9a4a" stroke="#10301c" stroke-width="0.4"/>
<path d="M472.6,493.7 Q474.3,497.5 473.8,499.2 L471.4,499.2 Q470.8,497.5 472.6,493.7Z" fill="#1e9a4a" stroke="#10301c" stroke-width="0.4"/>
<path d="M479.1,494.3 Q480.9,498.2 480.3,499.8 L477.9,499.8 Q477.4,498.2 479.1,494.3Z" fill="#1e9a4a" stroke="#10301c" stroke-width="0.4"/>
<path d="M482.6,494.4 Q484.3,498.2 483.8,499.9 L481.4,499.9 Q480.8,498.2 482.6,494.4Z" fill="#1e9a4a" stroke="#10301c" stroke-width="0.4"/>
<path d="M471.0,494.4 Q472.7,498.3 472.2,499.9 L469.7,499.9 Q469.2,498.3 471.0,494.4Z" fill="#1e9a4a" stroke="#10301c" stroke-width="0.4"/>
<path d="M491.2,494.7 Q492.9,498.5 492.4,500.2 L489.9,500.2 Q489.4,498.5 491.2,494.7Z" fill="#1e9a4a" stroke="#10301c" stroke-width="0.4"/>
<path d="M466.4,494.7 Q468.1,498.6 467.6,500.2 L465.1,500.2 Q464.6,498.6 466.4,494.7Z" fill="#1e9a4a" stroke="#10301c" stroke-width="0.4"/>
<path d="M471.2,496.3 Q472.9,500.1 472.4,501.8 L470.0,501.8 Q469.4,500.1 471.2,496.3Z" fill="#1e9a4a" stroke="#10301c" stroke-width="0.4"/>
<path d="M465.0,496.5 Q466.8,500.4 466.3,502.0 L463.8,502.0 Q463.3,500.4 465.0,496.5Z" fill="#1e9a4a" stroke="#10301c" stroke-width="0.4"/>
<path d="M463.2,496.9 Q464.9,500.8 464.4,502.4 L462.0,502.4 Q461.4,500.8 463.2,496.9Z" fill="#1e9a4a" stroke="#10301c" stroke-width="0.4"/>
<path d="M481.6,497.3 Q483.3,501.2 482.8,502.8 L480.4,502.8 Q479.8,501.2 481.6,497.3Z" fill="#1e9a4a" stroke="#10301c" stroke-width="0.4"/>
<path d="M471.7,497.4 Q473.5,501.2 472.9,502.9 L470.5,502.9 Q469.9,501.2 471.7,497.4Z" fill="#1e9a4a" stroke="#10301c" stroke-width="0.4"/>
<path d="M490.9,497.9 Q492.6,501.7 492.1,503.4 L489.7,503.4 Q489.1,501.7 490.9,497.9Z" fill="#1e9a4a" stroke="#10301c" stroke-width="0.4"/>
<path d="M487.2,498.0 Q488.9,501.8 488.4,503.5 L486.0,503.5 Q485.4,501.8 487.2,498.0Z" fill="#1e9a4a" stroke="#10301c" stroke-width="0.4"/>
<path d="M492.3,498.0 Q494.1,501.9 493.5,503.5 L491.1,503.5 Q490.6,501.9 492.3,498.0Z" fill="#1e9a4a" stroke="#10301c" stroke-width="0.4"/>
<path d="M476.1,498.3 Q477.9,502.1 477.3,503.8 L474.9,503.8 Q474.4,502.1 476.1,498.3Z" fill="#1e9a4a" stroke="#10301c" stroke-width="0.4"/>
<path d="M493.0,498.7 Q494.8,502.5 494.2,504.2 L491.8,504.2 Q491.3,502.5 493.0,498.7Z" fill="#1e9a4a" stroke="#10301c" stroke-width="0.4"/>
<path d="M468.1,499.5 Q469.9,503.4 469.3,505.0 L466.9,505.0 Q466.3,503.4 468.1,499.5Z" fill="#1e9a4a" stroke="#10301c" stroke-width="0.4"/>
<path d="M462.1,500.0 Q463.8,503.8 463.3,505.5 L460.8,505.5 Q460.3,503.8 462.1,500.0Z" fill="#1e9a4a" stroke="#10301c" stroke-width="0.4"/>
<path d="M479.4,500.0 Q481.2,503.9 480.6,505.5 L478.2,505.5 Q477.7,503.9 479.4,500.0Z" fill="#1e9a4a" stroke="#10301c" stroke-width="0.4"/>
<path d="M468.4,500.0 Q470.2,503.9 469.7,505.5 L467.2,505.5 Q466.7,503.9 468.4,500.0Z" fill="#1e9a4a" stroke="#10301c" stroke-width="0.4"/>
<path d="M483.6,500.2 Q485.3,504.0 484.8,505.7 L482.3,505.7 Q481.8,504.0 483.6,500.2Z" fill="#1e9a4a" stroke="#10301c" stroke-width="0.4"/>
<path d="M481.1,500.8 Q482.8,504.7 482.3,506.3 L479.9,506.3 Q479.3,504.7 481.1,500.8Z" fill="#1e9a4a" stroke="#10301c" stroke-width="0.4"/>
<path d="M473.7,500.9 Q475.5,504.7 474.9,506.4 L472.5,506.4 Q471.9,504.7 473.7,500.9Z" fill="#1e9a4a" stroke="#10301c" stroke-width="0.4"/>
<path d="M469.1,501.3 Q470.9,505.1 470.3,506.8 L467.9,506.8 Q467.4,505.1 469.1,501.3Z" fill="#1e9a4a" stroke="#10301c" stroke-width="0.4"/>
<path d="M485.2,501.6 Q487.0,505.5 486.4,507.1 L484.0,507.1 Q483.5,505.5 485.2,501.6Z" fill="#1e9a4a" stroke="#10301c" stroke-width="0.4"/>
<path d="M461.2,502.2 Q463.0,506.0 462.4,507.7 L460.0,507.7 Q459.5,506.0 461.2,502.2Z" fill="#1e9a4a" stroke="#10301c" stroke-width="0.4"/>
<path d="M481.2,502.4 Q483.0,506.2 482.4,507.9 L480.0,507.9 Q479.4,506.2 481.2,502.4Z" fill="#1e9a4a" stroke="#10301c" stroke-width="0.4"/>
<path d="M476.6,503.1 Q478.4,506.9 477.8,508.6 L475.4,508.6 Q474.9,506.9 476.6,503.1Z" fill="#1e9a4a" stroke="#10301c" stroke-width="0.4"/>
<path d="M467.3,503.1 Q469.1,507.0 468.5,508.6 L466.1,508.6 Q465.6,507.0 467.3,503.1Z" fill="#1e9a4a" stroke="#10301c" stroke-width="0.4"/>
<path d="M464.1,503.2 Q465.8,507.1 465.3,508.7 L462.9,508.7 Q462.3,507.1 464.1,503.2Z" fill="#1e9a4a" stroke="#10301c" stroke-width="0.4"/>
<path d="M460.3,503.7 Q462.1,507.5 461.5,509.2 L459.1,509.2 Q458.6,507.5 460.3,503.7Z" fill="#1e9a4a" stroke="#10301c" stroke-width="0.4"/>
<path d="M467.1,504.0 Q468.8,507.8 468.3,509.5 L465.9,509.5 Q465.3,507.8 467.1,504.0Z" fill="#1e9a4a" stroke="#10301c" stroke-width="0.4"/>
<path d="M472.8,505.2 Q474.5,509.1 474.0,510.7 L471.6,510.7 Q471.0,509.1 472.8,505.2Z" fill="#1e9a4a" stroke="#10301c" stroke-width="0.4"/>
<path d="M488.6,505.4 Q490.3,509.2 489.8,510.9 L487.4,510.9 Q486.8,509.2 488.6,505.4Z" fill="#1e9a4a" stroke="#10301c" stroke-width="0.4"/>
<path d="M467.8,505.4 Q469.5,509.3 469.0,510.9 L466.6,510.9 Q466.0,509.3 467.8,505.4Z" fill="#1e9a4a" stroke="#10301c" stroke-width="0.4"/>
<path d="M465.2,505.6 Q467.0,509.5 466.4,511.1 L464.0,511.1 Q463.5,509.5 465.2,505.6Z" fill="#1e9a4a" stroke="#10301c" stroke-width="0.4"/>
<path d="M470.6,505.7 Q472.3,509.6 471.8,511.2 L469.4,511.2 Q468.8,509.6 470.6,505.7Z" fill="#1e9a4a" stroke="#10301c" stroke-width="0.4"/>
<path d="M485.8,506.0 Q487.6,509.8 487.0,511.5 L484.6,511.5 Q484.1,509.8 485.8,506.0Z" fill="#1e9a4a" stroke="#10301c" stroke-width="0.4"/>
<path d="M478.6,506.6 Q480.4,510.4 479.8,512.1 L477.4,512.1 Q476.9,510.4 478.6,506.6Z" fill="#1e9a4a" stroke="#10301c" stroke-width="0.4"/>
<path d="M462.1,507.0 Q463.9,510.8 463.4,512.5 L460.9,512.5 Q460.4,510.8 462.1,507.0Z" fill="#1e9a4a" stroke="#10301c" stroke-width="0.4"/>
<path d="M477.0,507.8 Q478.7,511.6 478.2,513.3 L475.8,513.3 Q475.2,511.6 477.0,507.8Z" fill="#1e9a4a" stroke="#10301c" stroke-width="0.4"/>
<path d="M473.4,507.9 Q475.2,511.7 474.6,513.4 L472.2,513.4 Q471.7,511.7 473.4,507.9Z" fill="#1e9a4a" stroke="#10301c" stroke-width="0.4"/>
<path d="M496.1,508.5 Q497.9,512.3 497.3,514.0 L494.9,514.0 Q494.4,512.3 496.1,508.5Z" fill="#1e9a4a" stroke="#10301c" stroke-width="0.4"/>
<path d="M492.5,508.6 Q494.3,512.5 493.7,514.1 L491.3,514.1 Q490.8,512.5 492.5,508.6Z" fill="#1e9a4a" stroke="#10301c" stroke-width="0.4"/>
<path d="M489.8,508.7 Q491.5,512.5 491.0,514.2 L488.6,514.2 Q488.0,512.5 489.8,508.7Z" fill="#1e9a4a" stroke="#10301c" stroke-width="0.4"/>
<path d="M490.7,509.7 Q492.5,513.6 491.9,515.2 L489.5,515.2 Q489.0,513.6 490.7,509.7Z" fill="#1e9a4a" stroke="#10301c" stroke-width="0.4"/>
<path d="M474.7,510.2 Q476.5,514.0 475.9,515.7 L473.5,515.7 Q473.0,514.0 474.7,510.2Z" fill="#1e9a4a" stroke="#10301c" stroke-width="0.4"/>
<path d="M464.7,510.6 Q466.4,514.4 465.9,516.1 L463.5,516.1 Q462.9,514.4 464.7,510.6Z" fill="#1e9a4a" stroke="#10301c" stroke-width="0.4"/>
<path d="M479.3,510.8 Q481.1,514.6 480.5,516.3 L478.1,516.3 Q477.5,514.6 479.3,510.8Z" fill="#1e9a4a" stroke="#10301c" stroke-width="0.4"/>
<path d="M494.0,510.8 Q495.7,514.6 495.2,516.3 L492.8,516.3 Q492.2,514.6 494.0,510.8Z" fill="#1e9a4a" stroke="#10301c" stroke-width="0.4"/>
<path d="M493.0,511.2 Q494.7,515.1 494.2,516.7 L491.8,516.7 Q491.2,515.1 493.0,511.2Z" fill="#1e9a4a" stroke="#10301c" stroke-width="0.4"/>
<path d="M492.1,511.5 Q493.9,515.3 493.3,517.0 L490.9,517.0 Q490.3,515.3 492.1,511.5Z" fill="#1e9a4a" stroke="#10301c" stroke-width="0.4"/>
<path d="M470.3,511.7 Q472.1,515.6 471.5,517.2 L469.1,517.2 Q468.6,515.6 470.3,511.7Z" fill="#1e9a4a" stroke="#10301c" stroke-width="0.4"/>
<path d="M475.0,512.0 Q476.7,515.8 476.2,517.5 L473.8,517.5 Q473.2,515.8 475.0,512.0Z" fill="#1e9a4a" stroke="#10301c" stroke-width="0.4"/>
<path d="M473.6,513.2 Q475.4,517.0 474.8,518.7 L472.4,518.7 Q471.9,517.0 473.6,513.2Z" fill="#1e9a4a" stroke="#10301c" stroke-width="0.4"/>
<path d="M479.0,513.3 Q480.8,517.1 480.2,518.8 L477.8,518.8 Q477.2,517.1 479.0,513.3Z" fill="#1e9a4a" stroke="#10301c" stroke-width="0.4"/>
<path d="M480.0,513.5 Q481.7,517.3 481.2,519.0 L478.8,519.0 Q478.2,517.3 480.0,513.5Z" fill="#1e9a4a" stroke="#10301c" stroke-width="0.4"/>
<path d="M472.4,513.5 Q474.1,517.3 473.6,519.0 L471.1,519.0 Q470.6,517.3 472.4,513.5Z" fill="#1e9a4a" stroke="#10301c" stroke-width="0.4"/>
<path d="M483.1,515.1 Q484.9,519.0 484.3,520.6 L481.9,520.6 Q481.3,519.0 483.1,515.1Z" fill="#1e9a4a" stroke="#10301c" stroke-width="0.4"/>
<ellipse cx="250" cy="520.6" rx="1.2" ry="3.5" transform="rotate(30 250 520.6)" fill="#2e2e2e"/>
<ellipse cx="254" cy="513.5" rx="1.2" ry="3.5" transform="rotate(25 254 513.5)" fill="#2e2e2e"/>
<ellipse cx="260" cy="509" rx="1.2" ry="3.5" transform="rotate(25 260 509)" fill="#2e2e2e"/>
<ellipse cx="264" cy="505.6" rx="1.2" ry="3.5" transform="rotate(20 264 505.6)" fill="#2e2e2e"/>
<ellipse cx="279" cy="496.4" rx="1.2" ry="3.5" transform="rotate(20 279 496.4)" fill="#2e2e2e"/>
<ellipse cx="285.6" cy="493.5" rx="1.2" ry="3.5" transform="rotate(20 285.6 493.5)" fill="#2e2e2e"/>
<ellipse cx="290" cy="488" rx="1.2" ry="3.5" transform="rotate(15 290 488)" fill="#2e2e2e"/>
<ellipse cx="298.4" cy="488" rx="1.2" ry="3.5" transform="rotate(-10 298.4 488)" fill="#2e2e2e"/>
<ellipse cx="431.5" cy="436" rx="1.2" ry="3.5" transform="rotate(10 431.5 436)" fill="#2e2e2e"/>
<ellipse cx="436" cy="441" rx="1.2" ry="3.5" transform="rotate(15 436 441)" fill="#2e2e2e"/>
<ellipse cx="442" cy="440" rx="1.2" ry="3.5" transform="rotate(-20 442 440)" fill="#2e2e2e"/>
<ellipse cx="447" cy="446" rx="1.2" ry="3.5" transform="rotate(10 447 446)" fill="#2e2e2e"/>
<ellipse cx="440" cy="449" rx="1.2" ry="3.5" transform="rotate(-10 440 449)" fill="#2e2e2e"/>
<ellipse cx="444.5" cy="418" rx="1.2" ry="3.5" transform="rotate(0 444.5 418)" fill="#2e2e2e"/>
<ellipse cx="458" cy="419" rx="1.2" ry="3.5" transform="rotate(20 458 419)" fill="#2e2e2e"/>
<ellipse cx="455" cy="417" rx="1.2" ry="3.5" transform="rotate(-20 455 417)" fill="#2e2e2e"/>
<path d="M284.3,442.3 L291.4,442.3 L291.4,447.8 L284.3,447.8Z" fill="#fff" stroke="#2b2b2b" stroke-width="0.7" stroke-linejoin="round" />
<path d="M278.5,443.3 L281.4,439.0 L284.3,443.3 L284.3,447.8 L278.5,447.8Z" fill="#fff" stroke="#2b2b2b" stroke-width="0.7" stroke-linejoin="round" />
<path d="M281.4,439.0 L287.9,437.8 L291.9,442.3 L284.3,443.3Z" fill="#c8202f" stroke="#3a0d12" stroke-width="0.6" stroke-linejoin="round" />
<rect x="280.5" y="444.8" width="1.7" height="3.0" fill="#8c1c28"/>
<path d="M347.5,412.6 L355.7,412.6 L355.7,418.3 L347.5,418.3Z" fill="#fff" stroke="#2b2b2b" stroke-width="0.7" stroke-linejoin="round" />
<path d="M340.8,413.6 L344.2,409.2 L347.5,413.6 L347.5,418.3 L340.8,418.3Z" fill="#fff" stroke="#2b2b2b" stroke-width="0.7" stroke-linejoin="round" />
<path d="M344.2,409.2 L351.6,408.0 L356.2,412.6 L347.5,413.6Z" fill="#c8202f" stroke="#3a0d12" stroke-width="0.6" stroke-linejoin="round" />
<rect x="343.1" y="415.2" width="2.0" height="3.1" fill="#8c1c28"/>
<path d="M317.9,463.3 L325.0,463.3 L325.0,468.5 L317.9,468.5Z" fill="#fff" stroke="#2b2b2b" stroke-width="0.7" stroke-linejoin="round" />
<path d="M312.0,464.3 L314.9,460.1 L317.9,464.3 L317.9,468.5 L312.0,468.5Z" fill="#fff" stroke="#2b2b2b" stroke-width="0.7" stroke-linejoin="round" />
<path d="M314.9,460.1 L321.4,459.0 L325.5,463.3 L317.9,464.3Z" fill="#c8202f" stroke="#3a0d12" stroke-width="0.6" stroke-linejoin="round" />
<rect x="314.0" y="465.6" width="1.8" height="2.9" fill="#8c1c28"/>
<path d="M319.6,466.5 L329.0,466.5 L329.0,474.0 L319.6,474.0Z" fill="#fff" stroke="#2b2b2b" stroke-width="0.7" stroke-linejoin="round" />
<path d="M312.0,467.5 L315.8,462.0 L319.6,467.5 L319.6,474.0 L312.0,474.0Z" fill="#fff" stroke="#2b2b2b" stroke-width="0.7" stroke-linejoin="round" />
<path d="M315.8,462.0 L324.3,460.4 L329.5,466.5 L319.6,467.5Z" fill="#c8202f" stroke="#3a0d12" stroke-width="0.6" stroke-linejoin="round" />
<rect x="314.7" y="469.9" width="2.3" height="4.1" fill="#8c1c28"/>
<path d="M313.4,483.5 L320.0,483.5 L320.0,491.5 L313.4,491.5Z" fill="#fff" stroke="#2b2b2b" stroke-width="0.7" stroke-linejoin="round" />
<path d="M308.0,484.5 L310.7,478.7 L313.4,484.5 L313.4,491.5 L308.0,491.5Z" fill="#fff" stroke="#2b2b2b" stroke-width="0.7" stroke-linejoin="round" />
<path d="M310.7,478.7 L316.7,477.0 L320.5,483.5 L313.4,484.5Z" fill="#c8202f" stroke="#3a0d12" stroke-width="0.6" stroke-linejoin="round" />
<rect x="309.9" y="487.1" width="1.6" height="4.3" fill="#8c1c28"/>
<path d="M334.9,483.8 L342.0,483.8 L342.0,490.0 L334.9,490.0Z" fill="#fff" stroke="#2b2b2b" stroke-width="0.7" stroke-linejoin="round" />
<path d="M329.0,484.8 L331.9,480.1 L334.9,484.8 L334.9,490.0 L329.0,490.0Z" fill="#fff" stroke="#2b2b2b" stroke-width="0.7" stroke-linejoin="round" />
<path d="M331.9,480.1 L338.4,478.7 L342.5,483.8 L334.9,484.8Z" fill="#c8202f" stroke="#3a0d12" stroke-width="0.6" stroke-linejoin="round" />
<rect x="331.0" y="486.6" width="1.8" height="3.4" fill="#8c1c28"/>
<path d="M356.3,491.4 L362.7,491.4 L362.7,498.0 L356.3,498.0Z" fill="#fff" stroke="#2b2b2b" stroke-width="0.7" stroke-linejoin="round" />
<path d="M351.0,492.4 L353.6,487.4 L356.3,492.4 L356.3,498.0 L351.0,498.0Z" fill="#fff" stroke="#2b2b2b" stroke-width="0.7" stroke-linejoin="round" />
<path d="M353.6,487.4 L359.5,486.0 L363.2,491.4 L356.3,492.4Z" fill="#c8202f" stroke="#3a0d12" stroke-width="0.6" stroke-linejoin="round" />
<rect x="352.8" y="494.4" width="1.6" height="3.6" fill="#8c1c28"/>
<path d="M258.1,525.0 L263.0,525.0 L263.0,530.0 L258.1,530.0Z" fill="#fff" stroke="#2b2b2b" stroke-width="0.7" stroke-linejoin="round" />
<path d="M254.0,526.0 L256.0,522.1 L258.1,526.0 L258.1,530.0 L254.0,530.0Z" fill="#fff" stroke="#2b2b2b" stroke-width="0.7" stroke-linejoin="round" />
<path d="M256.0,522.1 L260.5,521.0 L263.5,525.0 L258.1,526.0Z" fill="#c8202f" stroke="#3a0d12" stroke-width="0.6" stroke-linejoin="round" />
<rect x="255.4" y="527.3" width="1.2" height="2.7" fill="#8c1c28"/>
<path d="M269.1,519.0 L274.0,519.0 L274.0,524.0 L269.1,524.0Z" fill="#fff" stroke="#2b2b2b" stroke-width="0.7" stroke-linejoin="round" />
<path d="M265.0,520.0 L267.0,516.1 L269.1,520.0 L269.1,524.0 L265.0,524.0Z" fill="#fff" stroke="#2b2b2b" stroke-width="0.7" stroke-linejoin="round" />
<path d="M267.0,516.1 L271.5,515.0 L274.5,519.0 L269.1,520.0Z" fill="#c8202f" stroke="#3a0d12" stroke-width="0.6" stroke-linejoin="round" />
<rect x="266.4" y="521.3" width="1.2" height="2.7" fill="#8c1c28"/>
<path d="M280.6,512.0 L285.5,512.0 L285.5,517.0 L280.6,517.0Z" fill="#fff" stroke="#2b2b2b" stroke-width="0.7" stroke-linejoin="round" />
<path d="M276.5,513.0 L278.5,509.1 L280.6,513.0 L280.6,517.0 L276.5,517.0Z" fill="#fff" stroke="#2b2b2b" stroke-width="0.7" stroke-linejoin="round" />
<path d="M278.5,509.1 L283.0,508.0 L286.0,512.0 L280.6,513.0Z" fill="#c8202f" stroke="#3a0d12" stroke-width="0.6" stroke-linejoin="round" />
<rect x="277.9" y="514.3" width="1.2" height="2.7" fill="#8c1c28"/>
<path d="M289.6,505.1 L294.5,505.1 L294.5,510.0 L289.6,510.0Z" fill="#fff" stroke="#2b2b2b" stroke-width="0.7" stroke-linejoin="round" />
<path d="M285.5,506.1 L287.5,502.1 L289.6,506.1 L289.6,510.0 L285.5,510.0Z" fill="#fff" stroke="#2b2b2b" stroke-width="0.7" stroke-linejoin="round" />
<path d="M287.5,502.1 L292.0,501.0 L295.0,505.1 L289.6,506.1Z" fill="#c8202f" stroke="#3a0d12" stroke-width="0.6" stroke-linejoin="round" />
<rect x="286.9" y="507.3" width="1.2" height="2.7" fill="#8c1c28"/>
<path d="M408.3,484.2 L416.5,484.2 L416.5,490.0 L408.3,490.0Z" fill="#fff" stroke="#2b2b2b" stroke-width="0.7" stroke-linejoin="round" />
<path d="M401.6,485.2 L405.0,480.7 L408.3,485.2 L408.3,490.0 L401.6,490.0Z" fill="#fff" stroke="#2b2b2b" stroke-width="0.7" stroke-linejoin="round" />
<path d="M405.0,480.7 L412.4,479.4 L417.0,484.2 L408.3,485.2Z" fill="#c8202f" stroke="#3a0d12" stroke-width="0.6" stroke-linejoin="round" />
<rect x="403.9" y="486.8" width="2.0" height="3.2" fill="#8c1c28"/>
<path d="M381.6,546.8 L391.0,546.8 L391.0,553.0 L381.6,553.0Z" fill="#fff" stroke="#2b2b2b" stroke-width="0.7" stroke-linejoin="round" />
<path d="M374.0,547.8 L377.8,543.1 L381.6,547.8 L381.6,553.0 L374.0,553.0Z" fill="#fff" stroke="#2b2b2b" stroke-width="0.7" stroke-linejoin="round" />
<path d="M377.8,543.1 L386.3,541.7 L391.5,546.8 L381.6,547.8Z" fill="#c8202f" stroke="#3a0d12" stroke-width="0.6" stroke-linejoin="round" />
<rect x="376.7" y="549.6" width="2.3" height="3.4" fill="#8c1c28"/>
<path d="M392.9,555.0 L399.0,555.0 L399.0,560.0 L392.9,560.0Z" fill="#fff" stroke="#2b2b2b" stroke-width="0.7" stroke-linejoin="round" />
<path d="M388.0,556.0 L390.5,552.1 L392.9,556.0 L392.9,560.0 L388.0,560.0Z" fill="#fff" stroke="#2b2b2b" stroke-width="0.7" stroke-linejoin="round" />
<path d="M390.5,552.1 L396.0,551.0 L399.5,555.0 L392.9,556.0Z" fill="#c8202f" stroke="#3a0d12" stroke-width="0.6" stroke-linejoin="round" />
<rect x="389.7" y="557.3" width="1.5" height="2.7" fill="#8c1c28"/>
<path d="M420.5,539.6 L427.4,539.6 L427.4,546.0 L420.5,546.0Z" fill="#fff" stroke="#2b2b2b" stroke-width="0.7" stroke-linejoin="round" />
<path d="M414.8,540.6 L417.6,535.8 L420.5,540.6 L420.5,546.0 L414.8,546.0Z" fill="#fff" stroke="#2b2b2b" stroke-width="0.7" stroke-linejoin="round" />
<path d="M417.6,535.8 L423.9,534.4 L427.9,539.6 L420.5,540.6Z" fill="#c8202f" stroke="#3a0d12" stroke-width="0.6" stroke-linejoin="round" />
<rect x="416.8" y="542.5" width="1.7" height="3.5" fill="#8c1c28"/>
<path d="M420.9,550.7 L427.0,550.7 L427.0,557.0 L420.9,557.0Z" fill="#fff" stroke="#2b2b2b" stroke-width="0.7" stroke-linejoin="round" />
<path d="M416.0,551.7 L418.5,546.9 L420.9,551.7 L420.9,557.0 L416.0,557.0Z" fill="#fff" stroke="#2b2b2b" stroke-width="0.7" stroke-linejoin="round" />
<path d="M418.5,546.9 L424.0,545.5 L427.5,550.7 L420.9,551.7Z" fill="#c8202f" stroke="#3a0d12" stroke-width="0.6" stroke-linejoin="round" />
<rect x="417.7" y="553.5" width="1.5" height="3.4" fill="#8c1c28"/>
<path d="M394.5,457.6 L400.0,457.6 L400.0,462.0 L394.5,462.0Z" fill="#fff" stroke="#2b2b2b" stroke-width="0.7" stroke-linejoin="round" />
<path d="M390.0,458.6 L392.2,455.0 L394.5,458.6 L394.5,462.0 L390.0,462.0Z" fill="#fff" stroke="#2b2b2b" stroke-width="0.7" stroke-linejoin="round" />
<path d="M392.2,455.0 L397.2,454.0 L400.5,457.6 L394.5,458.6Z" fill="#c8202f" stroke="#3a0d12" stroke-width="0.6" stroke-linejoin="round" />
<rect x="391.6" y="459.6" width="1.3" height="2.4" fill="#8c1c28"/>
<path d="M300.7,418.0 L301.5,409.0 L303.0,407.6 L304.3,409.0 L304.3,418.0Z" fill="#a8a8ac" stroke="#333" stroke-width="0.6" stroke-linejoin="round" />
<rect x="304" y="411" width="6" height="5" fill="#8a1a2a" stroke="#2a0a10" stroke-width="0.6"/>
<rect x="310" y="412" width="7" height="5" fill="#8a1a2a" stroke="#2a0a10" stroke-width="0.6"/>
<rect x="306" y="416" width="5" height="6" fill="#8a1a2a" stroke="#2a0a10" stroke-width="0.6"/>
<rect x="311.5" y="417" width="6" height="5.5" fill="#8a1a2a" stroke="#2a0a10" stroke-width="0.6"/>
<rect x="293" y="418" width="6" height="4" fill="#8a1a2a" stroke="#2a0a10" stroke-width="0.6"/>
<rect x="297" y="421" width="6" height="4.5" fill="#8a1a2a" stroke="#2a0a10" stroke-width="0.6"/>
<rect x="292" y="426.5" width="11" height="4.5" fill="#8a1a2a" stroke="#2a0a10" stroke-width="0.6"/>
<rect x="298" y="424" width="5" height="3" fill="#8a1a2a" stroke="#2a0a10" stroke-width="0.6"/>
<rect x="305.5" y="412.5" width="3" height="2" fill="#fff"/>
<rect x="311.5" y="413.5" width="3" height="2" fill="#fff"/>
<rect x="307" y="418" width="2.5" height="2.5" fill="#fff"/>
<rect x="313" y="418.5" width="3" height="2" fill="#fff"/>
<rect x="294.5" y="419" width="3" height="1.8" fill="#fff"/>
<rect x="294" y="428" width="7" height="1.6" fill="#fff"/>
<rect x="385.5" y="430" width="21.5" height="4.5" fill="#fff" stroke="#2b2b2b" stroke-width="0.6"/>
<path d="M385.5,430 L387.0,427 L406.5,427 L408,430 Z" fill="#c8202f" stroke="#3a0d12" stroke-width="0.5"/>
<rect x="386.4" y="431.2" width="1.5" height="2.2" fill="#444"/>
<rect x="389.6" y="431.2" width="1.5" height="2.2" fill="#444"/>
<rect x="392.8" y="431.2" width="1.5" height="2.2" fill="#444"/>
<rect x="396.0" y="431.2" width="1.5" height="2.2" fill="#444"/>
<rect x="399.2" y="431.2" width="1.5" height="2.2" fill="#444"/>
<rect x="402.4" y="431.2" width="1.5" height="2.2" fill="#444"/>
<rect x="412.5" y="431.7" width="16.0" height="5.5" fill="#fff" stroke="#2b2b2b" stroke-width="0.6"/>
<path d="M412.5,431.7 L414.0,428.5 L428.0,428.5 L429.5,431.7 Z" fill="#c8202f" stroke="#3a0d12" stroke-width="0.5"/>
<rect x="413.4" y="432.9" width="1.5" height="2.2" fill="#444"/>
<rect x="416.6" y="432.9" width="1.5" height="2.2" fill="#444"/>
<rect x="419.8" y="432.9" width="1.5" height="2.2" fill="#444"/>
<rect x="423.0" y="432.9" width="1.5" height="2.2" fill="#444"/>
<rect x="426.2" y="432.9" width="1.5" height="2.2" fill="#444"/>
<rect x="402" y="452" width="18" height="5" fill="#fff" stroke="#2b2b2b" stroke-width="0.6"/>
<path d="M402,452 L403.5,449 L419.5,449 L421,452 Z" fill="#c8202f" stroke="#3a0d12" stroke-width="0.5"/>
<rect x="402.9" y="453.2" width="1.5" height="2.2" fill="#444"/>
<rect x="406.1" y="453.2" width="1.5" height="2.2" fill="#444"/>
<rect x="409.3" y="453.2" width="1.5" height="2.2" fill="#444"/>
<rect x="412.5" y="453.2" width="1.5" height="2.2" fill="#444"/>
<rect x="415.7" y="453.2" width="1.5" height="2.2" fill="#444"/>
<path d="M410.1,447.6 L414.0,447.6 L414.0,452.0 L410.1,452.0Z" fill="#fff" stroke="#2b2b2b" stroke-width="0.7" stroke-linejoin="round" />
<path d="M407.0,448.6 L408.6,445.0 L410.1,448.6 L410.1,452.0 L407.0,452.0Z" fill="#fff" stroke="#2b2b2b" stroke-width="0.7" stroke-linejoin="round" />
<path d="M408.6,445.0 L412.1,444.0 L414.5,447.6 L410.1,448.6Z" fill="#c8202f" stroke="#3a0d12" stroke-width="0.6" stroke-linejoin="round" />
<rect x="408.1" y="449.6" width="0.9" height="2.4" fill="#8c1c28"/>
<defs><pattern id="rh" width="2.2" height="2.2" patternUnits="userSpaceOnUse" patternTransform="rotate(-30)"><rect width="2.2" height="2.2" fill="#f4e4e4"/><rect width="2.2" height="1.1" fill="#a01c2c"/></pattern></defs>
<path d="M321.4,507.0 L326.0,495.0 L338.3,497.0 L333.0,507.0Z" fill="url(#rh)" stroke="#7a1020" stroke-width="0.6" stroke-linejoin="round" />
<circle cx="305.5" cy="498.3" r="0.35" fill="#333"/>
<circle cx="309.7" cy="506.2" r="0.35" fill="#333"/>
<circle cx="322.2" cy="501.5" r="0.35" fill="#333"/>
<circle cx="321.9" cy="511.8" r="0.35" fill="#333"/>
<circle cx="322.2" cy="499.9" r="0.35" fill="#333"/>
<circle cx="309.0" cy="497.3" r="0.35" fill="#333"/>
<circle cx="308.5" cy="496.9" r="0.35" fill="#333"/>
<circle cx="316.2" cy="510.1" r="0.35" fill="#333"/>
<circle cx="320.1" cy="502.1" r="0.35" fill="#333"/>
<circle cx="316.8" cy="508.2" r="0.35" fill="#333"/>
<circle cx="306.5" cy="505.6" r="0.35" fill="#333"/>
<circle cx="321.4" cy="507.9" r="0.35" fill="#333"/>
<circle cx="318.5" cy="502.1" r="0.35" fill="#333"/>
<circle cx="308.2" cy="508.0" r="0.35" fill="#333"/>
<circle cx="311.0" cy="508.2" r="0.35" fill="#333"/>
<circle cx="322.5" cy="500.5" r="0.35" fill="#333"/>
<circle cx="312.2" cy="511.0" r="0.35" fill="#333"/>
<circle cx="318.0" cy="496.2" r="0.35" fill="#333"/>
<circle cx="307.3" cy="495.9" r="0.35" fill="#333"/>
<circle cx="321.3" cy="508.3" r="0.35" fill="#333"/>
<circle cx="307.6" cy="508.7" r="0.35" fill="#333"/>
<circle cx="322.6" cy="505.5" r="0.35" fill="#333"/>
<circle cx="311.3" cy="503.4" r="0.35" fill="#333"/>
<circle cx="307.4" cy="493.3" r="0.35" fill="#333"/>
<circle cx="322.5" cy="505.3" r="0.35" fill="#333"/>
<circle cx="314.5" cy="510.7" r="0.35" fill="#333"/>
<circle cx="312.8" cy="509.6" r="0.35" fill="#333"/>
<circle cx="319.9" cy="497.0" r="0.35" fill="#333"/>
<circle cx="309.5" cy="498.6" r="0.35" fill="#333"/>
<circle cx="309.3" cy="504.1" r="0.35" fill="#333"/>
<circle cx="309.7" cy="501.0" r="0.35" fill="#333"/>
<circle cx="307.4" cy="510.3" r="0.35" fill="#333"/>
<circle cx="311.4" cy="501.7" r="0.35" fill="#333"/>
<circle cx="315.5" cy="510.2" r="0.35" fill="#333"/>
<circle cx="312.6" cy="510.4" r="0.35" fill="#333"/>
<circle cx="314.0" cy="503.1" r="0.35" fill="#333"/>
<circle cx="314.4" cy="493.4" r="0.35" fill="#333"/>
<circle cx="312.9" cy="496.5" r="0.35" fill="#333"/>
<circle cx="305.1" cy="508.2" r="0.35" fill="#333"/>
<circle cx="308.1" cy="502.0" r="0.35" fill="#333"/>
<path d="M308.5,494.0 L308.5,509.0" fill="none" stroke="#8c1c28" stroke-width="1.3" stroke-linecap="round" stroke-linejoin="round" />
<ellipse cx="320.5" cy="474.5" rx="3" ry="1.6" fill="#3f86d0"/><ellipse cx="342" cy="493.5" rx="4" ry="1.8" fill="#3f86d0"/>
<path d="M378.6,424.0 L383.0,424.0 L380.0,437.0 L395.0,437.0 L412.0,437.0" fill="none" stroke="#b01e2e" stroke-width="1.9" stroke-linecap="round" stroke-linejoin="round" />
<path d="M373.0,452.0 L392.0,452.0 L395.0,446.0 L404.0,446.0" fill="none" stroke="#b01e2e" stroke-width="1.9" stroke-linecap="round" stroke-linejoin="round" />
<path d="M392.0,452.0 L388.0,462.0 L404.0,462.0 L420.0,460.0 L426.0,452.0" fill="none" stroke="#b01e2e" stroke-width="1.9" stroke-linecap="round" stroke-linejoin="round" />
<path d="M421.0,440.0 L426.0,440.0 L424.0,446.0" fill="none" stroke="#b01e2e" stroke-width="1.9" stroke-linecap="round" stroke-linejoin="round" />
<path d="M386.8,472.6 L394.0,474.0 L392.0,479.0 L398.0,481.0" fill="none" stroke="#b01e2e" stroke-width="1.9" stroke-linecap="round" stroke-linejoin="round" />
<path d="M410.0,474.0 L427.4,473.0 L424.0,486.0 L414.0,486.0" fill="none" stroke="#b01e2e" stroke-width="1.9" stroke-linecap="round" stroke-linejoin="round" />
<path d="M257.0,534.0 L292.0,516.0" fill="none" stroke="#8c1c28" stroke-width="1.6" stroke-linecap="round" stroke-linejoin="round" />
<rect x="373" y="441" width="8" height="10" fill="#f3f3f3" stroke="#2b2b2b" stroke-width="0.7"/>
<path d="M373,441 l3,-2.5 h8 l-3,2.5 z" fill="#e0e0e0" stroke="#2b2b2b" stroke-width="0.6"/>
<rect x="386" y="438" width="16" height="12" fill="#f3f3f3" stroke="#2b2b2b" stroke-width="0.7"/>
<path d="M386,438 l3,-2.5 h16 l-3,2.5 z" fill="#e0e0e0" stroke="#2b2b2b" stroke-width="0.6"/>
<rect x="395" y="471" width="11" height="12" fill="#f3f3f3" stroke="#2b2b2b" stroke-width="0.7"/>
<path d="M395,471 l3,-2.5 h11 l-3,2.5 z" fill="#e0e0e0" stroke="#2b2b2b" stroke-width="0.6"/>
<rect x="371.6" y="441" width="11" height="10" fill="#f3f3f3" stroke="#2b2b2b" stroke-width="0.7"/>
<path d="M371.6,441 l3,-2.5 h11 l-3,2.5 z" fill="#e0e0e0" stroke="#2b2b2b" stroke-width="0.6"/>
<ellipse cx="381.6" cy="388.0" rx="5.1" ry="3.5" fill="#f4f4f4" stroke="#2b2b2b" stroke-width="0.8"/>
<path d="M380.8,391.4 L380.0,391.2 L379.1,391.0 L378.4,390.6 L377.7,390.2 L377.2,389.7 L376.8,389.2 L376.6,388.6 L376.5,388.0 L376.6,387.3 L376.8,386.8 L377.2,386.2 L377.7,385.7 L378.4,385.3 L379.1,384.9 L380.0,384.7 L380.8,384.5Z" fill="#c8202f" stroke="none"/>
<ellipse cx="381.6" cy="388.0" rx="5.1" ry="3.5" fill="none" stroke="#2b2b2b" stroke-width="0.8"/>
<line x1="382.1" y1="388.7" x2="385.7" y2="388.7" stroke="#999" stroke-width="0.5"/>
<ellipse cx="393" cy="398.4" rx="5.5" ry="3.7" fill="#f4f4f4" stroke="#2b2b2b" stroke-width="0.8"/>
<path d="M392.2,402.1 L391.2,401.9 L390.3,401.7 L389.5,401.3 L388.8,400.8 L388.3,400.3 L387.8,399.7 L387.6,399.0 L387.5,398.4 L387.6,397.7 L387.8,397.1 L388.3,396.5 L388.8,395.9 L389.5,395.5 L390.3,395.1 L391.2,394.8 L392.2,394.7Z" fill="#c8202f" stroke="none"/>
<ellipse cx="393" cy="398.4" rx="5.5" ry="3.7" fill="none" stroke="#2b2b2b" stroke-width="0.8"/>
<line x1="393.6" y1="399.1" x2="397.4" y2="399.1" stroke="#999" stroke-width="0.5"/>
<ellipse cx="447.8" cy="434.1" rx="4.6" ry="3.1" fill="#f4f4f4" stroke="#2b2b2b" stroke-width="0.8"/>
<path d="M447.1,437.2 L446.3,437.0 L445.6,436.8 L444.9,436.5 L444.3,436.1 L443.8,435.6 L443.5,435.1 L443.3,434.6 L443.2,434.1 L443.3,433.5 L443.5,433.0 L443.8,432.5 L444.3,432.0 L444.9,431.6 L445.6,431.3 L446.3,431.1 L447.1,431.0Z" fill="#c8202f" stroke="none"/>
<ellipse cx="447.8" cy="434.1" rx="4.6" ry="3.1" fill="none" stroke="#2b2b2b" stroke-width="0.8"/>
<line x1="448.3" y1="434.7" x2="451.5" y2="434.7" stroke="#999" stroke-width="0.5"/>
<ellipse cx="437.5" cy="448.0" rx="4.8" ry="3.3" fill="#f4f4f4" stroke="#2b2b2b" stroke-width="0.8"/>
<path d="M436.8,451.2 L436.0,451.1 L435.2,450.9 L434.5,450.6 L433.9,450.1 L433.4,449.7 L433.0,449.2 L432.8,448.6 L432.7,448.0 L432.8,447.4 L433.0,446.9 L433.4,446.4 L433.9,445.9 L434.5,445.5 L435.2,445.2 L436.0,444.9 L436.8,444.8Z" fill="#c8202f" stroke="none"/>
<ellipse cx="437.5" cy="448.0" rx="4.8" ry="3.3" fill="none" stroke="#2b2b2b" stroke-width="0.8"/>
<line x1="438.0" y1="448.7" x2="441.3" y2="448.7" stroke="#999" stroke-width="0.5"/>
<ellipse cx="275.3" cy="503.5" rx="5" ry="3.4" fill="#f4f4f4" stroke="#2b2b2b" stroke-width="0.8"/>
<path d="M274.6,506.8 L273.7,506.7 L272.9,506.5 L272.1,506.1 L271.5,505.7 L271.0,505.2 L270.6,504.7 L270.4,504.1 L270.3,503.5 L270.4,502.9 L270.6,502.3 L271.0,501.8 L271.5,501.3 L272.1,500.8 L272.9,500.5 L273.7,500.3 L274.6,500.1Z" fill="#c8202f" stroke="none"/>
<ellipse cx="275.3" cy="503.5" rx="5" ry="3.4" fill="none" stroke="#2b2b2b" stroke-width="0.8"/>
<line x1="275.8" y1="504.2" x2="279.3" y2="504.2" stroke="#999" stroke-width="0.5"/>
<ellipse cx="426.3" cy="520.9" rx="5.5" ry="3.7" fill="#f4f4f4" stroke="#2b2b2b" stroke-width="0.8"/>
<path d="M425.5,524.6 L424.5,524.4 L423.6,524.2 L422.8,523.8 L422.1,523.3 L421.6,522.8 L421.1,522.2 L420.9,521.5 L420.8,520.9 L420.9,520.2 L421.1,519.6 L421.6,519.0 L422.1,518.4 L422.8,518.0 L423.6,517.6 L424.5,517.3 L425.5,517.2Z" fill="#c8202f" stroke="none"/>
<ellipse cx="426.3" cy="520.9" rx="5.5" ry="3.7" fill="none" stroke="#2b2b2b" stroke-width="0.8"/>
<line x1="426.9" y1="521.6" x2="430.7" y2="521.6" stroke="#999" stroke-width="0.5"/>
<ellipse cx="306" cy="570.6" rx="4.5" ry="3.1" fill="#f4f4f4" stroke="#2b2b2b" stroke-width="0.8"/>
<path d="M305.3,573.6 L304.5,573.5 L303.8,573.3 L303.2,573.0 L302.6,572.6 L302.1,572.1 L301.8,571.6 L301.6,571.1 L301.5,570.6 L301.6,570.0 L301.8,569.5 L302.1,569.0 L302.6,568.6 L303.2,568.2 L303.8,567.9 L304.5,567.7 L305.3,567.6Z" fill="#c8202f" stroke="none"/>
<ellipse cx="306" cy="570.6" rx="4.5" ry="3.1" fill="none" stroke="#2b2b2b" stroke-width="0.8"/>
<line x1="306.4" y1="571.2" x2="309.6" y2="571.2" stroke="#999" stroke-width="0.5"/>
<rect x="215.7" y="493.5" width="6.5" height="14" fill="#e2b8a8" stroke="#5a2420" stroke-width="0.7"/>
<rect x="222.2" y="494.5" width="7" height="13.5" fill="#dcae9c" stroke="#5a2420" stroke-width="0.7"/>
<line x1="232" y1="490" x2="232" y2="507" stroke="#4a2a22" stroke-width="1.8"/>
<rect x="232.5" y="497" width="4.5" height="10" fill="#d9ad9b" stroke="#5a2420" stroke-width="0.7"/>
<rect x="239.5" y="494" width="4.5" height="12.5" fill="#e6c2b2" stroke="#5a2420" stroke-width="0.7"/>
<rect x="244" y="496.5" width="4.5" height="10" fill="#d2a290" stroke="#5a2420" stroke-width="0.7"/>
<rect x="238.5" y="506.8" width="11.5" height="5.2" fill="#c8968a" stroke="#5a2420" stroke-width="0.7"/>
<path d="M231.5,510.6 L232.0,519.0 L236.0,521.0" fill="none" stroke="#6b2a22" stroke-width="1.8" stroke-linecap="round" stroke-linejoin="round" />
<text x="218" y="515" font-size="3.5" fill="#6b2a22" font-family="Liberation Sans">co₂</text>
<rect x="399" y="401" width="13" height="3" fill="#6e3e2e" stroke="#3a1a12" stroke-width="0.7"/>
<rect x="399" y="404" width="13" height="2.5" fill="#d6a990" stroke="#4a2a22" stroke-width="0.7"/>
<rect x="411" y="402" width="12" height="3" fill="#6e3e2e" stroke="#3a1a12" stroke-width="0.7"/>
<rect x="411" y="405" width="12" height="2.5" fill="#d6a990" stroke="#4a2a22" stroke-width="0.7"/>
<rect x="422" y="403.5" width="10" height="3" fill="#6e3e2e" stroke="#3a1a12" stroke-width="0.7"/>
<rect x="422" y="406.5" width="10" height="2.5" fill="#d6a990" stroke="#4a2a22" stroke-width="0.7"/>
<rect x="431" y="404" width="8" height="3" fill="#6e3e2e" stroke="#3a1a12" stroke-width="0.7"/>
<rect x="431" y="407" width="8" height="2.5" fill="#d6a990" stroke="#4a2a22" stroke-width="0.7"/>
<rect x="405" y="406" width="12" height="3" fill="#6e3e2e" stroke="#3a1a12" stroke-width="0.7"/>
<rect x="405" y="409" width="12" height="2.5" fill="#d6a990" stroke="#4a2a22" stroke-width="0.7"/>
<rect x="418" y="407" width="10" height="3" fill="#6e3e2e" stroke="#3a1a12" stroke-width="0.7"/>
<rect x="418" y="410" width="10" height="2.5" fill="#d6a990" stroke="#4a2a22" stroke-width="0.7"/>
<rect x="425.7" y="414" width="8" height="4" fill="#a8735e" stroke="#4a2a22" stroke-width="0.7"/>
<rect x="361.4" y="416" width="6" height="8" fill="#b47a62" stroke="#4a2a22" stroke-width="0.7"/>
<rect x="367.5" y="414" width="5" height="10" fill="#b47a62" stroke="#4a2a22" stroke-width="0.7"/>
<rect x="373" y="418" width="5" height="6" fill="#b47a62" stroke="#4a2a22" stroke-width="0.7"/>
<rect x="378" y="417" width="6" height="7" fill="#b47a62" stroke="#4a2a22" stroke-width="0.7"/>
<rect x="384" y="418" width="6" height="6" fill="#b47a62" stroke="#4a2a22" stroke-width="0.7"/>
<line x1="364" y1="408" x2="364" y2="417" stroke="#4a2a22" stroke-width="1.4"/><line x1="367" y1="409" x2="367" y2="417" stroke="#4a2a22" stroke-width="1.4"/><line x1="381" y1="412" x2="381" y2="418" stroke="#4a2a22" stroke-width="1.2"/>
<path d="M365.0,427.4 L365.0,437.7 L367.0,437.7" fill="none" stroke="#6b2a22" stroke-width="1.6" stroke-linecap="round" stroke-linejoin="round" />
<rect x="431.4" y="474" width="8" height="16" fill="#c08a74" stroke="#4a2a22" stroke-width="0.7"/>
<rect x="439.4" y="478" width="5" height="12" fill="#d6ad98" stroke="#4a2a22" stroke-width="0.7"/>
<rect x="450" y="476" width="7" height="14" fill="#c8957f" stroke="#4a2a22" stroke-width="0.7"/>
<rect x="457" y="472" width="6" height="18" fill="#d9b4a2" stroke="#4a2a22" stroke-width="0.7"/>
<rect x="462" y="480" width="5" height="10" fill="#b58068" stroke="#4a2a22" stroke-width="0.7"/>
<line x1="455" y1="469" x2="455" y2="478" stroke="#4a2a22" stroke-width="1.3"/><line x1="459" y1="468" x2="459" y2="476" stroke="#4a2a22" stroke-width="1.2"/>
<path d="M428.7,491.5 L440.0,486.0 L450.0,484.0 L462.0,484.0" fill="none" stroke="#5a2a22" stroke-width="2.2" stroke-linecap="round" stroke-linejoin="round" />
<path d="M446.0,490.0 L446.0,499.0 L449.0,500.0" fill="none" stroke="#6b2a22" stroke-width="1.6" stroke-linecap="round" stroke-linejoin="round" />
<rect x="396" y="472" width="12" height="11" fill="#f2f2f2" stroke="#2b2b2b" stroke-width="0.7"/><ellipse cx="402" cy="472" rx="6" ry="1.8" fill="#e6e6e6" stroke="#2b2b2b" stroke-width="0.6"/>
<path d="M324.0,412.0 L330.0,409.0 L333.0,420.0 L332.8,444.5 L322.6,444.5 L323.0,430.0Z" fill="#5cc3e0" stroke="none" stroke-width="0.7" stroke-linejoin="round" opacity="0.85"/>
<path d="M330.9,419.0 L329.7,420.0 L329.8,421.5 L328.3,421.4 L327.3,422.6 L326.3,421.4 L324.8,421.5 L324.9,420.0 L323.7,419.0 L324.9,418.0 L324.8,416.5 L326.3,416.6 L327.3,415.4 L328.3,416.6 L329.8,416.5 L329.7,418.0Z" fill="#c8202f" stroke="#4a0e16" stroke-width="0.5" stroke-linejoin="round" />
<circle cx="327.3" cy="419" r="1.1" fill="#fff" stroke="#4a0e16" stroke-width="0.4"/>
<path d="M320.0,426.0 L344.0,425.0 L344.0,431.0 L320.0,432.0Z" fill="#d8d8d8" stroke="#2b2b2b" stroke-width="0.6" stroke-linejoin="round" />
<path d="M336.0,424.0 L339.0,421.0 L347.0,432.0 L344.0,435.0Z" fill="#e2e2e2" stroke="#2b2b2b" stroke-width="0.6" stroke-linejoin="round" />
<rect x="324.8" y="438" width="4" height="7" fill="#d7b4a0" stroke="#4a2a22" stroke-width="0.7"/>
<rect x="329" y="438" width="4" height="7" fill="#c49a85" stroke="#4a2a22" stroke-width="0.7"/>
<rect x="333" y="438" width="5" height="7" fill="#d7b4a0" stroke="#4a2a22" stroke-width="0.7"/>
<rect x="338" y="438" width="5" height="7" fill="#b8826e" stroke="#4a2a22" stroke-width="0.7"/>
<path d="M304.0,541.0 L308.0,535.0 L313.0,534.0 L318.0,531.0 L324.0,533.0 L330.0,532.0 L336.0,535.0 L340.0,539.0 L339.0,546.0 L334.0,549.0 L320.0,545.0 L306.0,545.0Z" fill="#a0705c" stroke="#3a1a12" stroke-width="0.6" stroke-linejoin="round" />
<rect x="306" y="537" width="3.5" height="7" fill="#6e3a2c" stroke="#3a1a12" stroke-width="0.7"/>
<rect x="311" y="536" width="4" height="8" fill="#c8a090" stroke="#3a1a12" stroke-width="0.7"/>
<rect x="316" y="534" width="3.5" height="9" fill="#7a4232" stroke="#3a1a12" stroke-width="0.7"/>
<rect x="321" y="535" width="4" height="8" fill="#d0aa9a" stroke="#3a1a12" stroke-width="0.7"/>
<rect x="326" y="534" width="4" height="9" fill="#7a4232" stroke="#3a1a12" stroke-width="0.7"/>
<rect x="331" y="536" width="4" height="8" fill="#c09080" stroke="#3a1a12" stroke-width="0.7"/>
<rect x="335.5" y="538" width="3.5" height="7" fill="#8a5240" stroke="#3a1a12" stroke-width="0.7"/>
<path d="M301.0,539.0 L338.0,552.5 L337.0,557.5 L300.5,544.0Z" fill="#7fd0e8" stroke="#2a7c97" stroke-width="0.5" stroke-linejoin="round" />
<path d="M304.0,548.0 L318.0,539.0 L326.0,536.0" fill="none" stroke="#3a1a12" stroke-width="1.4" stroke-linecap="round" stroke-linejoin="round" />
<path d="M309.0,556.0 L322.0,555.0 L325.0,558.0 L311.0,559.0Z" fill="#d8a898" stroke="#6a3a2a" stroke-width="0.5" stroke-linejoin="round" />
<path d="M306.0,538.0 L306.0,556.0" fill="none" stroke="#2a1a12" stroke-width="1.0" stroke-linecap="round" stroke-linejoin="round" />
<path d="M323.0,553.0 L323.0,561.0" fill="none" stroke="#2a1a12" stroke-width="1.0" stroke-linecap="round" stroke-linejoin="round" />
<path d="M316.0,550.0 L316.0,558.0" fill="none" stroke="#2a1a12" stroke-width="0.8" stroke-linecap="round" stroke-linejoin="round" />
<path d="M318.0,533.0 L323.0,527.0 L325.0,528.0" fill="none" stroke="#555" stroke-width="0.7" stroke-linecap="round" stroke-linejoin="round" />
<rect x="343.8" y="528.5" width="2.2" height="7" rx="1" fill="#8c1c28" stroke="#3a0d12" stroke-width="0.4"/><path d="M341,532 a4.2,4.2 0 1 0 8.4,0" fill="none" stroke="#222" stroke-width="0.9"/>
<path d="M313,526 q3,-2.5 6,0 q3,-2.5 6,0 q3,-2.5 6,0 q3,-2 6,0" fill="none" stroke="#1e8a3a" stroke-width="2.2"/>
<path d="M277.5,583.2 L275.8,584.6 L276.0,586.7 L273.9,586.5 L272.5,588.2 L271.1,586.5 L269.0,586.7 L269.2,584.6 L267.5,583.2 L269.2,581.8 L269.0,579.7 L271.1,579.9 L272.5,578.2 L273.9,579.9 L276.0,579.7 L275.8,581.8Z" fill="#c8202f" stroke="#4a0e16" stroke-width="0.5" stroke-linejoin="round" />
<circle cx="272.5" cy="583.2" r="1.5" fill="#fff" stroke="#4a0e16" stroke-width="0.4"/>
<path d="M332.6,568.0 L331.4,569.0 L331.5,570.5 L330.0,570.4 L329.0,571.6 L328.0,570.4 L326.5,570.5 L326.6,569.0 L325.4,568.0 L326.6,567.0 L326.5,565.5 L328.0,565.6 L329.0,564.4 L330.0,565.6 L331.5,565.5 L331.4,567.0Z" fill="#c8202f" stroke="#4a0e16" stroke-width="0.5" stroke-linejoin="round" />
<circle cx="329" cy="568" r="1.1" fill="#fff" stroke="#4a0e16" stroke-width="0.4"/>
<path d="M456.5,519.0 L454.8,520.4 L455.0,522.5 L452.9,522.3 L451.5,524.0 L450.1,522.3 L448.0,522.5 L448.2,520.4 L446.5,519.0 L448.2,517.6 L448.0,515.5 L450.1,515.7 L451.5,514.0 L452.9,515.7 L455.0,515.5 L454.8,517.6Z" fill="#c8202f" stroke="#4a0e16" stroke-width="0.5" stroke-linejoin="round" />
<circle cx="451.5" cy="519" r="1.5" fill="#fff" stroke="#4a0e16" stroke-width="0.4"/>
<path d="M515.2,506.0 L513.8,507.2 L514.0,509.0 L512.2,508.8 L511.0,510.2 L509.8,508.8 L508.0,509.0 L508.2,507.2 L506.8,506.0 L508.2,504.8 L508.0,503.0 L509.8,503.2 L511.0,501.8 L512.2,503.2 L514.0,503.0 L513.8,504.8Z" fill="#c8202f" stroke="#4a0e16" stroke-width="0.5" stroke-linejoin="round" />
<circle cx="511" cy="506" r="1.3" fill="#fff" stroke="#4a0e16" stroke-width="0.4"/>
<ellipse cx="272.5" cy="588" rx="5" ry="1.4" fill="#5cc3e0"/><ellipse cx="452" cy="525" rx="6.5" ry="1.8" fill="#5cc3e0"/>
<path d="M501.0,500.0 L507.0,496.5 L514.0,497.0 L520.0,500.0 L521.0,509.0 L516.0,515.4 L506.0,515.0 L501.0,509.0Z" fill="#5cc3e0" stroke="#2a8fb0" stroke-width="0.4" stroke-linejoin="round" opacity="0.9"/>
<path d="M515.2,506.0 L513.8,507.2 L514.0,509.0 L512.2,508.8 L511.0,510.2 L509.8,508.8 L508.0,509.0 L508.2,507.2 L506.8,506.0 L508.2,504.8 L508.0,503.0 L509.8,503.2 L511.0,501.8 L512.2,503.2 L514.0,503.0 L513.8,504.8Z" fill="#c8202f" stroke="#4a0e16" stroke-width="0.5" stroke-linejoin="round" />
<circle cx="511" cy="506" r="1.3" fill="#fff" stroke="#4a0e16" stroke-width="0.4"/>
<path d="M499.7,492.0 L520.0,492.0 L520.0,498.0 L499.7,498.0Z" fill="#d0d0d0" stroke="#555" stroke-width="0.5" stroke-linejoin="round" />
<path d="M502.0,491.0 L502.0,498.0" fill="none" stroke="#666" stroke-width="0.5" stroke-linecap="round" stroke-linejoin="round" />
<path d="M507.0,491.0 L507.0,498.0" fill="none" stroke="#666" stroke-width="0.5" stroke-linecap="round" stroke-linejoin="round" />
<path d="M512.0,491.0 L512.0,498.0" fill="none" stroke="#666" stroke-width="0.5" stroke-linecap="round" stroke-linejoin="round" />
<path d="M517.0,491.0 L517.0,498.0" fill="none" stroke="#666" stroke-width="0.5" stroke-linecap="round" stroke-linejoin="round" />
<path d="M316.0,579.0 Q317.9,583.2 317.3,585.0 L314.7,585.0 Q314.1,583.2 316.0,579.0Z" fill="#1e7a3a" stroke="#10301c" stroke-width="0.4"/>
<path d="M319.0,576.0 Q320.9,580.2 320.3,582.0 L317.7,582.0 Q317.1,580.2 319.0,576.0Z" fill="#1e7a3a" stroke="#10301c" stroke-width="0.4"/>
<path d="M322.0,578.5 Q323.9,582.7 323.3,584.5 L320.7,584.5 Q320.1,582.7 322.0,578.5Z" fill="#1e7a3a" stroke="#10301c" stroke-width="0.4"/>
<path d="M324.5,575.0 Q326.4,579.2 325.8,581.0 L323.2,581.0 Q322.6,579.2 324.5,575.0Z" fill="#1e7a3a" stroke="#10301c" stroke-width="0.4"/>
<path d="M282.0,563.0 L286.0,554.0 L291.0,549.0" fill="none" stroke="#222" stroke-width="0.8" stroke-linecap="round" stroke-linejoin="round" />
<path d="M301.0,563.0 L301.0,556.0" fill="none" stroke="#222" stroke-width="0.8" stroke-linecap="round" stroke-linejoin="round" />
<ellipse cx="273" cy="535" rx="2.4" ry="1.6" fill="#b08570" stroke="#3a1a12" stroke-width="0.4"/>
<ellipse cx="281" cy="531" rx="2.4" ry="1.6" fill="#b08570" stroke="#3a1a12" stroke-width="0.4"/>
<ellipse cx="437" cy="514.5" rx="3.5" ry="1.7" fill="#b08570" stroke="#3a1a12" stroke-width="0.4"/>
<rect x="372.8" y="383" width="2" height="6" fill="#333" transform="rotate(20 373 386)"/><g stroke="#5f5f5f" stroke-width="1.1" fill="none">
<line x1="334.5" y1="368" x2="334.5" y2="415"/>
<line x1="316" y1="390" x2="316" y2="454"/>
<line x1="372.6" y1="360" x2="372.6" y2="406"/>
<line x1="400" y1="395" x2="446" y2="395"/>
<line x1="422" y1="441" x2="473" y2="441"/>
<line x1="462" y1="471" x2="538" y2="471"/>
<line x1="209.8" y1="451.4" x2="286.5" y2="451.4"/>
<line x1="185" y1="479" x2="265" y2="479"/>
<line x1="167" y1="515.3" x2="213" y2="515.3"/>
<line x1="183" y1="584" x2="264" y2="584"/>
<line x1="313" y1="562" x2="313" y2="603"/>
<line x1="377" y1="554" x2="377" y2="628"/>
<line x1="429.3" y1="548" x2="429.3" y2="589"/>
</g>

</g>
</svg>
<div class="lab r" style="right:342px;top:338px"><span class="bl" style="letter-spacing:-0.14px">Wasserstoffproduktion</span> an<br>Laufwasserkraft-Standorten (7 PJ)</div>
<div class="lab r" style="right:390px;top:373px"><span style="letter-spacing:0.12px"><span class="rd">1.5 Mio</span>. Wärmepumpen</span><br><span style="letter-spacing:0.1px">(heute 0.3 Mio.)</span></div>
<div class="lab" style="left:382px;top:355px">Kehrrichtverwertung mit <span class="tnr">CCS</span> (3.6 Mt CO<sub>2</sub>/a)</div>
<div class="lab" style="left:451px;top:388px;letter-spacing:-0.06px"><span class="rd">Biomasse</span> für Prozesswärme</div>
<div class="lab" style="left:478px;top:428px;line-height:13.7px">Ausbau <span class="rd">Wärmenetze</span><br>in urbanen Regionen</div>
<div class="lab" style="left:543px;top:464px">Zement- und Chemiewerke<br><span style="letter-spacing:0.08px">mit <span class="tnr">CCS</span> (2.9 Mt CO<sub>2</sub>/a)</span></div>
<div class="lab r" style="right:496.5px;top:428px"><span style="letter-spacing:0.06px">Schwerverkehr mit <span class="bl">Schiene,</span></span><br><span class="bl">Bioenergie</span> und <span class="bl">Wasserstoff</span></div>
<div class="lab" style="left:22.5px;top:473px;letter-spacing:0.15px"><span class="bl">3.6 Mio</span>. batterieelektrische PW</div>
<div class="lab r" style="right:538.5px;top:508px;line-height:13.9px"><span class="tn" style="letter-spacing:-0.3px">Negativemissions-</span><br><span class="tn">technologien</span>:<span style="word-spacing:3px"> Speicherung</span><br><span style="letter-spacing:0.14px">im Inland (3 Mt CO<sub>2</sub>/a)</span></div>
<div class="lab r" style="right:530.5px;top:569.5px;line-height:13.5px"><span style="letter-spacing:0.08px"><span class="bl">45 TWh</span> aus Wasserkraft</span><br>(53 % der Erzeugung)</div>
<div class="lab r" style="right:370px;top:609px"><span class="rd" style="letter-spacing:-0.15px">hohe Effizienz</span> in<br>industriellen Prozessen</div>
<div class="lab" style="left:434.5px;top:577px">gut <span class="rd">gedämmte</span> Gebäude<br><span style="letter-spacing:0.1px">mit wenig Wärmebedarf</span></div>
<div class="lab" style="left:382px;top:615px"><span style="letter-spacing:-0.03px"><span class="bl">34 TWh</span> aus PV-Anlagen, 40 % der</span><br>Erzeugung (heute 2 TWh)</div>
</body></html>
